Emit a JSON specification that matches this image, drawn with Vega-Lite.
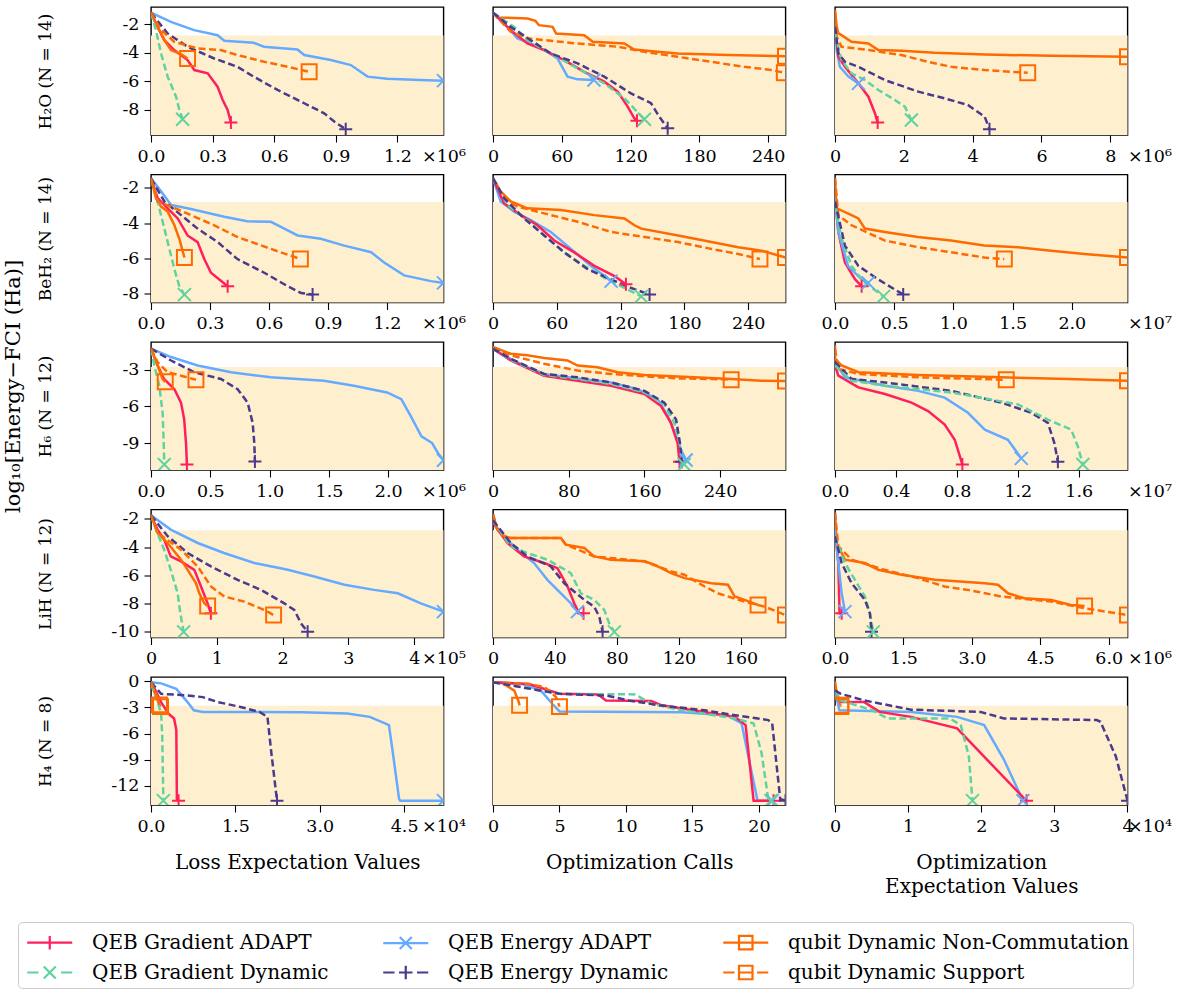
{
"$schema": "https://vega.github.io/schema/vega-lite/v6.json",
"background": "white",
"padding": {"left": 2, "top": 6, "right": 2, "bottom": 2},
"config": {
 "font": "DejaVu Serif",
 "view": {"stroke": "black", "strokeWidth": 1.4},
 "axis": {"grid": false, "domain": false, "labelFont": "DejaVu Serif", "labelFontSize": 17.5, "labelColor": "black", "tickColor": "black", "tickSize": 7, "tickWidth": 1.1, "titleFont": "DejaVu Serif", "titleFontSize": 20, "titleFontWeight": "normal", "titleColor": "black", "labelFlush": false, "labelOverlap": false, "labelPadding": 5, "tickCount": 12},
 "legend": {"labelFont": "DejaVu Serif", "labelFontSize": 20, "labelColor": "black"},
 "title": {"font": "DejaVu Serif", "fontSize": 21, "fontWeight": "normal", "color": "black"}
},
"title": {"text": "log₁₀[Energy−FCI (Ha)]", "orient": "left", "anchor": "middle", "offset": -6, "dx": 111},
"data": {"values": [
{"p":"11","s":"GA","x":0,"y":-1.2},{"p":"11","s":"GA","x":32000,"y":-2.19},{"p":"11","s":"GA","x":65000,"y":-3.12},{"p":"11","s":"GA","x":113000,"y":-3.81},{"p":"11","s":"GA","x":178000,"y":-4.51},{"p":"11","s":"GA","x":211000,"y":-5.21},{"p":"11","s":"GA","x":276000,"y":-5.44},{"p":"11","s":"GA","x":324000,"y":-6.37},{"p":"11","s":"GA","x":349000,"y":-7.3},{"p":"11","s":"GA","x":373000,"y":-8.0},{"p":"11","s":"GA","x":389000,"y":-8.88},
{"p":"11","s":"GD","x":0,"y":-1.2},{"p":"11","s":"GD","x":24000,"y":-2.42},{"p":"11","s":"GD","x":49000,"y":-4.05},{"p":"11","s":"GD","x":81000,"y":-5.67},{"p":"11","s":"GD","x":122000,"y":-7.07},{"p":"11","s":"GD","x":138000,"y":-8.0},{"p":"11","s":"GD","x":154000,"y":-8.65},
{"p":"11","s":"EA","x":0,"y":-1.2},{"p":"11","s":"EA","x":97000,"y":-1.84},{"p":"11","s":"EA","x":210000,"y":-2.42},{"p":"11","s":"EA","x":324000,"y":-2.77},{"p":"11","s":"EA","x":357000,"y":-3.16},{"p":"11","s":"EA","x":500000,"y":-3.3},{"p":"11","s":"EA","x":550000,"y":-3.58},{"p":"11","s":"EA","x":713000,"y":-3.77},{"p":"11","s":"EA","x":746000,"y":-4.16},{"p":"11","s":"EA","x":875000,"y":-4.51},{"p":"11","s":"EA","x":973000,"y":-4.86},{"p":"11","s":"EA","x":1054000,"y":-5.67},{"p":"11","s":"EA","x":1150000,"y":-5.81},{"p":"11","s":"EA","x":1310000,"y":-5.91},{"p":"11","s":"EA","x":1424000,"y":-5.95},
{"p":"11","s":"ED","x":0,"y":-1.2},{"p":"11","s":"ED","x":81000,"y":-2.65},{"p":"11","s":"ED","x":178000,"y":-3.58},{"p":"11","s":"ED","x":308000,"y":-4.4},{"p":"11","s":"ED","x":421000,"y":-4.98},{"p":"11","s":"ED","x":500000,"y":-5.67},{"p":"11","s":"ED","x":616000,"y":-6.6},{"p":"11","s":"ED","x":746000,"y":-7.53},{"p":"11","s":"ED","x":843000,"y":-8.23},{"p":"11","s":"ED","x":892000,"y":-8.81},{"p":"11","s":"ED","x":948000,"y":-9.35},
{"p":"11","s":"NC","x":0,"y":-1.2},{"p":"11","s":"NC","x":32000,"y":-2.19},{"p":"11","s":"NC","x":65000,"y":-3.12},{"p":"11","s":"NC","x":97000,"y":-3.81},{"p":"11","s":"NC","x":146000,"y":-4.09},{"p":"11","s":"NC","x":178000,"y":-4.4},
{"p":"11","s":"SU","x":0,"y":-1.2},{"p":"11","s":"SU","x":49000,"y":-2.42},{"p":"11","s":"SU","x":113000,"y":-3.23},{"p":"11","s":"SU","x":227000,"y":-3.7},{"p":"11","s":"SU","x":340000,"y":-3.81},{"p":"11","s":"SU","x":421000,"y":-4.16},{"p":"11","s":"SU","x":551000,"y":-4.63},{"p":"11","s":"SU","x":665000,"y":-4.98},{"p":"11","s":"SU","x":770000,"y":-5.33},
{"p":"12","s":"NC","x":0,"y":-1.2},{"p":"12","s":"NC","x":3.8,"y":-1.53},{"p":"12","s":"NC","x":30,"y":-1.6},{"p":"12","s":"NC","x":37,"y":-1.77},{"p":"12","s":"NC","x":40,"y":-2.07},{"p":"12","s":"NC","x":52,"y":-2.19},{"p":"12","s":"NC","x":55,"y":-2.65},{"p":"12","s":"NC","x":79.5,"y":-2.77},{"p":"12","s":"NC","x":87,"y":-3.23},{"p":"12","s":"NC","x":114.5,"y":-3.35},{"p":"12","s":"NC","x":123,"y":-3.77},{"p":"12","s":"NC","x":143.6,"y":-3.93},{"p":"12","s":"NC","x":161,"y":-4.05},{"p":"12","s":"NC","x":205,"y":-4.16},{"p":"12","s":"NC","x":255,"y":-4.25},
{"p":"12","s":"SU","x":0,"y":-1.2},{"p":"12","s":"SU","x":15.4,"y":-2.53},{"p":"12","s":"SU","x":30,"y":-3.0},{"p":"12","s":"SU","x":73.7,"y":-3.35},{"p":"12","s":"SU","x":108.7,"y":-3.58},{"p":"12","s":"SU","x":132,"y":-3.93},{"p":"12","s":"SU","x":161,"y":-4.28},{"p":"12","s":"SU","x":190,"y":-4.63},{"p":"12","s":"SU","x":219,"y":-4.98},{"p":"12","s":"SU","x":242.7,"y":-5.21},{"p":"12","s":"SU","x":254,"y":-5.4},
{"p":"12","s":"EA","x":0,"y":-1.2},{"p":"12","s":"EA","x":12.5,"y":-2.19},{"p":"12","s":"EA","x":21.3,"y":-3.0},{"p":"12","s":"EA","x":32.9,"y":-3.35},{"p":"12","s":"EA","x":44.6,"y":-3.81},{"p":"12","s":"EA","x":56.2,"y":-4.4},{"p":"12","s":"EA","x":65,"y":-5.67},{"p":"12","s":"EA","x":73.7,"y":-5.86},{"p":"12","s":"EA","x":88,"y":-5.91},
{"p":"12","s":"GA","x":0,"y":-1.2},{"p":"12","s":"GA","x":15.4,"y":-2.42},{"p":"12","s":"GA","x":30,"y":-3.35},{"p":"12","s":"GA","x":44.6,"y":-3.81},{"p":"12","s":"GA","x":62,"y":-4.51},{"p":"12","s":"GA","x":79.5,"y":-5.33},{"p":"12","s":"GA","x":97,"y":-6.02},{"p":"12","s":"GA","x":108.7,"y":-6.72},{"p":"12","s":"GA","x":117.4,"y":-7.77},{"p":"12","s":"GA","x":123.2,"y":-8.58},{"p":"12","s":"GA","x":125.5,"y":-8.75},
{"p":"12","s":"GD","x":0,"y":-1.2},{"p":"12","s":"GD","x":18.4,"y":-2.19},{"p":"12","s":"GD","x":30,"y":-3.12},{"p":"12","s":"GD","x":50.4,"y":-4.05},{"p":"12","s":"GD","x":73.7,"y":-5.09},{"p":"12","s":"GD","x":97,"y":-6.14},{"p":"12","s":"GD","x":114.5,"y":-7.19},{"p":"12","s":"GD","x":132,"y":-8.65},
{"p":"12","s":"ED","x":0,"y":-1.2},{"p":"12","s":"ED","x":15.4,"y":-2.19},{"p":"12","s":"ED","x":32.9,"y":-3.12},{"p":"12","s":"ED","x":50.4,"y":-4.05},{"p":"12","s":"ED","x":73.7,"y":-4.74},{"p":"12","s":"ED","x":97,"y":-5.67},{"p":"12","s":"ED","x":120.3,"y":-6.84},{"p":"12","s":"ED","x":137.8,"y":-7.53},{"p":"12","s":"ED","x":145,"y":-8.47},{"p":"12","s":"ED","x":152.3,"y":-9.28},
{"p":"13","s":"NC","x":0,"y":-1.0},{"p":"13","s":"NC","x":50000,"y":-2.19},{"p":"13","s":"NC","x":100000,"y":-2.65},{"p":"13","s":"NC","x":190000,"y":-2.77},{"p":"13","s":"NC","x":480000,"y":-3.23},{"p":"13","s":"NC","x":970000,"y":-3.35},{"p":"13","s":"NC","x":1260000,"y":-3.81},{"p":"13","s":"NC","x":1930000,"y":-3.86},{"p":"13","s":"NC","x":2900000,"y":-4.0},{"p":"13","s":"NC","x":4350000,"y":-4.12},{"p":"13","s":"NC","x":6280000,"y":-4.21},{"p":"13","s":"NC","x":8500000,"y":-4.28},
{"p":"13","s":"SU","x":0,"y":-1.14},{"p":"13","s":"SU","x":50000,"y":-2.88},{"p":"13","s":"SU","x":190000,"y":-3.58},{"p":"13","s":"SU","x":970000,"y":-3.81},{"p":"13","s":"SU","x":1930000,"y":-4.16},{"p":"13","s":"SU","x":2700000,"y":-4.63},{"p":"13","s":"SU","x":3380000,"y":-4.98},{"p":"13","s":"SU","x":4350000,"y":-5.21},{"p":"13","s":"SU","x":5600000,"y":-5.4},
{"p":"13","s":"EA","x":0,"y":-2.19},{"p":"13","s":"EA","x":50000,"y":-3.81},{"p":"13","s":"EA","x":140000,"y":-4.98},{"p":"13","s":"EA","x":390000,"y":-5.67},{"p":"13","s":"EA","x":680000,"y":-6.14},
{"p":"13","s":"GA","x":0,"y":-2.19},{"p":"13","s":"GA","x":100000,"y":-4.28},{"p":"13","s":"GA","x":290000,"y":-4.98},{"p":"13","s":"GA","x":680000,"y":-6.14},{"p":"13","s":"GA","x":970000,"y":-7.07},{"p":"13","s":"GA","x":1160000,"y":-8.23},{"p":"13","s":"GA","x":1240000,"y":-8.88},
{"p":"13","s":"GD","x":0,"y":-2.65},{"p":"13","s":"GD","x":190000,"y":-4.51},{"p":"13","s":"GD","x":480000,"y":-5.44},{"p":"13","s":"GD","x":870000,"y":-5.91},{"p":"13","s":"GD","x":1260000,"y":-6.6},{"p":"13","s":"GD","x":1740000,"y":-7.3},{"p":"13","s":"GD","x":2030000,"y":-7.77},{"p":"13","s":"GD","x":2220000,"y":-8.7},
{"p":"13","s":"ED","x":0,"y":-2.19},{"p":"13","s":"ED","x":100000,"y":-4.05},{"p":"13","s":"ED","x":290000,"y":-4.63},{"p":"13","s":"ED","x":680000,"y":-4.98},{"p":"13","s":"ED","x":1450000,"y":-5.91},{"p":"13","s":"ED","x":2420000,"y":-6.72},{"p":"13","s":"ED","x":3190000,"y":-7.19},{"p":"13","s":"ED","x":3860000,"y":-7.65},{"p":"13","s":"ED","x":4350000,"y":-8.47},{"p":"13","s":"ED","x":4490000,"y":-9.35},
{"p":"21","s":"EA","x":0,"y":-1.45},{"p":"21","s":"EA","x":51000,"y":-2.19},{"p":"21","s":"EA","x":102000,"y":-2.97},{"p":"21","s":"EA","x":203000,"y":-3.2},{"p":"21","s":"EA","x":373000,"y":-3.64},{"p":"21","s":"EA","x":490000,"y":-3.9},{"p":"21","s":"EA","x":610000,"y":-3.93},{"p":"21","s":"EA","x":678000,"y":-4.32},{"p":"21","s":"EA","x":746000,"y":-4.71},{"p":"21","s":"EA","x":864000,"y":-4.9},{"p":"21","s":"EA","x":983000,"y":-5.29},{"p":"21","s":"EA","x":1120000,"y":-5.67},{"p":"21","s":"EA","x":1186000,"y":-6.26},{"p":"21","s":"EA","x":1288000,"y":-6.99},{"p":"21","s":"EA","x":1424000,"y":-7.32},{"p":"21","s":"EA","x":1488000,"y":-7.42},
{"p":"21","s":"GA","x":0,"y":-1.45},{"p":"21","s":"GA","x":34000,"y":-2.58},{"p":"21","s":"GA","x":85000,"y":-3.16},{"p":"21","s":"GA","x":136000,"y":-3.74},{"p":"21","s":"GA","x":186000,"y":-4.71},{"p":"21","s":"GA","x":237000,"y":-5.09},{"p":"21","s":"GA","x":271000,"y":-6.06},{"p":"21","s":"GA","x":305000,"y":-6.84},{"p":"21","s":"GA","x":390000,"y":-7.61},
{"p":"21","s":"GD","x":0,"y":-1.45},{"p":"21","s":"GD","x":25000,"y":-2.39},{"p":"21","s":"GD","x":51000,"y":-3.55},{"p":"21","s":"GD","x":85000,"y":-5.09},{"p":"21","s":"GD","x":119000,"y":-6.64},{"p":"21","s":"GD","x":144000,"y":-7.61},{"p":"21","s":"GD","x":170000,"y":-8.09},
{"p":"21","s":"ED","x":0,"y":-1.45},{"p":"21","s":"ED","x":68000,"y":-2.77},{"p":"21","s":"ED","x":153000,"y":-3.55},{"p":"21","s":"ED","x":237000,"y":-4.32},{"p":"21","s":"ED","x":339000,"y":-5.09},{"p":"21","s":"ED","x":440000,"y":-6.06},{"p":"21","s":"ED","x":576000,"y":-6.84},{"p":"21","s":"ED","x":695000,"y":-7.61},{"p":"21","s":"ED","x":763000,"y":-8.0},{"p":"21","s":"ED","x":822000,"y":-8.09},
{"p":"21","s":"NC","x":0,"y":-1.45},{"p":"21","s":"NC","x":25000,"y":-2.58},{"p":"21","s":"NC","x":51000,"y":-3.06},{"p":"21","s":"NC","x":85000,"y":-3.35},{"p":"21","s":"NC","x":119000,"y":-4.13},{"p":"21","s":"NC","x":144000,"y":-4.9},{"p":"21","s":"NC","x":170000,"y":-5.97},
{"p":"21","s":"SU","x":0,"y":-1.45},{"p":"21","s":"SU","x":34000,"y":-2.77},{"p":"21","s":"SU","x":102000,"y":-3.06},{"p":"21","s":"SU","x":203000,"y":-3.55},{"p":"21","s":"SU","x":322000,"y":-4.13},{"p":"21","s":"SU","x":440000,"y":-4.8},{"p":"21","s":"SU","x":610000,"y":-5.48},{"p":"21","s":"SU","x":760000,"y":-6.06},
{"p":"22","s":"NC","x":0,"y":-1.45},{"p":"22","s":"NC","x":7.2,"y":-2.19},{"p":"22","s":"NC","x":16.7,"y":-2.77},{"p":"22","s":"NC","x":32.4,"y":-3.16},{"p":"22","s":"NC","x":63.9,"y":-3.26},{"p":"22","s":"NC","x":95.3,"y":-3.55},{"p":"22","s":"NC","x":123.6,"y":-3.74},{"p":"22","s":"NC","x":133,"y":-4.13},{"p":"22","s":"NC","x":139.4,"y":-4.32},{"p":"22","s":"NC","x":174,"y":-4.71},{"p":"22","s":"NC","x":205.4,"y":-5.09},{"p":"22","s":"NC","x":230.6,"y":-5.39},{"p":"22","s":"NC","x":252.6,"y":-5.58},{"p":"22","s":"NC","x":275,"y":-5.97},
{"p":"22","s":"SU","x":0,"y":-1.45},{"p":"22","s":"SU","x":10.4,"y":-2.58},{"p":"22","s":"SU","x":23,"y":-3.06},{"p":"22","s":"SU","x":48.1,"y":-3.45},{"p":"22","s":"SU","x":79.6,"y":-3.93},{"p":"22","s":"SU","x":111,"y":-4.51},{"p":"22","s":"SU","x":142.5,"y":-4.8},{"p":"22","s":"SU","x":174,"y":-5.09},{"p":"22","s":"SU","x":205.4,"y":-5.48},{"p":"22","s":"SU","x":230.6,"y":-5.77},{"p":"22","s":"SU","x":251,"y":-6.06},
{"p":"22","s":"EA","x":0,"y":-1.45},{"p":"22","s":"EA","x":7.2,"y":-2.77},{"p":"22","s":"EA","x":19.8,"y":-3.35},{"p":"22","s":"EA","x":35.5,"y":-3.84},{"p":"22","s":"EA","x":54.4,"y":-4.51},{"p":"22","s":"EA","x":73.3,"y":-5.48},{"p":"22","s":"EA","x":92.2,"y":-6.45},{"p":"22","s":"EA","x":104.8,"y":-7.03},{"p":"22","s":"EA","x":111,"y":-7.32},
{"p":"22","s":"GA","x":0,"y":-1.45},{"p":"22","s":"GA","x":10.4,"y":-2.87},{"p":"22","s":"GA","x":26.1,"y":-3.55},{"p":"22","s":"GA","x":41.8,"y":-4.13},{"p":"22","s":"GA","x":57.6,"y":-5.0},{"p":"22","s":"GA","x":76.4,"y":-5.68},{"p":"22","s":"GA","x":95.3,"y":-6.45},{"p":"22","s":"GA","x":114.2,"y":-7.03},{"p":"22","s":"GA","x":125,"y":-7.5},
{"p":"22","s":"GD","x":0,"y":-1.45},{"p":"22","s":"GD","x":13.5,"y":-2.97},{"p":"22","s":"GD","x":32.4,"y":-3.84},{"p":"22","s":"GD","x":48.1,"y":-4.71},{"p":"22","s":"GD","x":67,"y":-5.68},{"p":"22","s":"GD","x":85.9,"y":-6.45},{"p":"22","s":"GD","x":104.8,"y":-7.13},{"p":"22","s":"GD","x":123.6,"y":-7.71},{"p":"22","s":"GD","x":139.4,"y":-8.19},
{"p":"22","s":"ED","x":0,"y":-1.45},{"p":"22","s":"ED","x":10.4,"y":-2.58},{"p":"22","s":"ED","x":29.3,"y":-3.74},{"p":"22","s":"ED","x":48.1,"y":-4.71},{"p":"22","s":"ED","x":67,"y":-5.68},{"p":"22","s":"ED","x":89,"y":-6.64},{"p":"22","s":"ED","x":111,"y":-7.22},{"p":"22","s":"ED","x":130,"y":-7.71},{"p":"22","s":"ED","x":147.2,"y":-8.09},
{"p":"23","s":"NC","x":0,"y":-1.45},{"p":"23","s":"NC","x":140000,"y":-3.16},{"p":"23","s":"NC","x":1400000,"y":-3.55},{"p":"23","s":"NC","x":1970000,"y":-3.74},{"p":"23","s":"NC","x":2530000,"y":-4.32},{"p":"23","s":"NC","x":4200000,"y":-4.51},{"p":"23","s":"NC","x":7000000,"y":-4.8},{"p":"23","s":"NC","x":9800000,"y":-5.0},{"p":"23","s":"NC","x":12600000,"y":-5.29},{"p":"23","s":"NC","x":15450000,"y":-5.38},{"p":"23","s":"NC","x":18260000,"y":-5.58},{"p":"23","s":"NC","x":21070000,"y":-5.77},{"p":"23","s":"NC","x":24700000,"y":-5.97},
{"p":"23","s":"SU","x":0,"y":-1.45},{"p":"23","s":"SU","x":280000,"y":-3.55},{"p":"23","s":"SU","x":1400000,"y":-4.13},{"p":"23","s":"SU","x":4200000,"y":-5.0},{"p":"23","s":"SU","x":7000000,"y":-5.38},{"p":"23","s":"SU","x":9800000,"y":-5.67},{"p":"23","s":"SU","x":12600000,"y":-5.97},{"p":"23","s":"SU","x":14300000,"y":-6.06},
{"p":"23","s":"GA","x":0,"y":-2.58},{"p":"23","s":"GA","x":280000,"y":-4.51},{"p":"23","s":"GA","x":840000,"y":-6.26},{"p":"23","s":"GA","x":1700000,"y":-7.22},{"p":"23","s":"GA","x":2250000,"y":-7.61},
{"p":"23","s":"EA","x":0,"y":-2.58},{"p":"23","s":"EA","x":280000,"y":-4.51},{"p":"23","s":"EA","x":1100000,"y":-6.45},{"p":"23","s":"EA","x":2250000,"y":-7.22},{"p":"23","s":"EA","x":2800000,"y":-7.42},
{"p":"23","s":"GD","x":0,"y":-2.97},{"p":"23","s":"GD","x":560000,"y":-4.9},{"p":"23","s":"GD","x":1400000,"y":-6.45},{"p":"23","s":"GD","x":2500000,"y":-7.42},{"p":"23","s":"GD","x":4100000,"y":-8.19},
{"p":"23","s":"ED","x":0,"y":-2.77},{"p":"23","s":"ED","x":840000,"y":-5.29},{"p":"23","s":"ED","x":1970000,"y":-6.45},{"p":"23","s":"ED","x":3650000,"y":-7.22},{"p":"23","s":"ED","x":5060000,"y":-7.8},{"p":"23","s":"ED","x":5760000,"y":-8.09},
{"p":"31","s":"EA","x":0,"y":-1.29},{"p":"31","s":"EA","x":169000,"y":-1.98},{"p":"31","s":"EA","x":393000,"y":-2.67},{"p":"31","s":"EA","x":674000,"y":-3.22},{"p":"31","s":"EA","x":1010000,"y":-3.63},{"p":"31","s":"EA","x":1460000,"y":-3.91},{"p":"31","s":"EA","x":1710000,"y":-4.32},{"p":"31","s":"EA","x":1990000,"y":-4.87},{"p":"31","s":"EA","x":2110000,"y":-5.42},{"p":"31","s":"EA","x":2190000,"y":-6.8},{"p":"31","s":"EA","x":2280000,"y":-8.45},{"p":"31","s":"EA","x":2370000,"y":-9.0},{"p":"31","s":"EA","x":2420000,"y":-9.83},{"p":"31","s":"EA","x":2466000,"y":-10.4},
{"p":"31","s":"GA","x":0,"y":-1.29},{"p":"31","s":"GA","x":56000,"y":-2.67},{"p":"31","s":"GA","x":110000,"y":-3.77},{"p":"31","s":"GA","x":197000,"y":-4.6},{"p":"31","s":"GA","x":253000,"y":-5.7},{"p":"31","s":"GA","x":280000,"y":-7.08},{"p":"31","s":"GA","x":295000,"y":-9.0},{"p":"31","s":"GA","x":303000,"y":-10.75},
{"p":"31","s":"GD","x":0,"y":-1.29},{"p":"31","s":"GD","x":28000,"y":-2.67},{"p":"31","s":"GD","x":70000,"y":-4.32},{"p":"31","s":"GD","x":98000,"y":-6.53},{"p":"31","s":"GD","x":107000,"y":-9.0},{"p":"31","s":"GD","x":112000,"y":-10.75},
{"p":"31","s":"ED","x":0,"y":-1.29},{"p":"31","s":"ED","x":169000,"y":-2.26},{"p":"31","s":"ED","x":365000,"y":-3.22},{"p":"31","s":"ED","x":590000,"y":-3.77},{"p":"31","s":"ED","x":730000,"y":-4.6},{"p":"31","s":"ED","x":815000,"y":-5.7},{"p":"31","s":"ED","x":857000,"y":-7.35},{"p":"31","s":"ED","x":871000,"y":-9.0},{"p":"31","s":"ED","x":876000,"y":-10.5},
{"p":"31","s":"NC","x":0,"y":-1.29},{"p":"31","s":"NC","x":56000,"y":-2.67},{"p":"31","s":"NC","x":98000,"y":-3.77},{"p":"31","s":"NC","x":120000,"y":-4.0},
{"p":"31","s":"SU","x":0,"y":-1.29},{"p":"31","s":"SU","x":56000,"y":-2.4},{"p":"31","s":"SU","x":140000,"y":-3.22},{"p":"31","s":"SU","x":253000,"y":-3.5},{"p":"31","s":"SU","x":379000,"y":-3.83},
{"p":"32","s":"NC","x":0,"y":-1.15},{"p":"32","s":"NC","x":18.7,"y":-1.71},{"p":"32","s":"NC","x":36.3,"y":-1.84},{"p":"32","s":"NC","x":54,"y":-2.06},{"p":"32","s":"NC","x":78.7,"y":-2.26},{"p":"32","s":"NC","x":89.3,"y":-2.67},{"p":"32","s":"NC","x":110.5,"y":-2.81},{"p":"32","s":"NC","x":131.6,"y":-3.22},{"p":"32","s":"NC","x":160,"y":-3.44},{"p":"32","s":"NC","x":212.8,"y":-3.63},{"p":"32","s":"NC","x":251.6,"y":-3.77},{"p":"32","s":"NC","x":283.4,"y":-3.91},{"p":"32","s":"NC","x":309,"y":-3.93},
{"p":"32","s":"SU","x":0,"y":-1.3},{"p":"32","s":"SU","x":18.7,"y":-1.84},{"p":"32","s":"SU","x":54,"y":-2.53},{"p":"32","s":"SU","x":89.3,"y":-3.08},{"p":"32","s":"SU","x":124.6,"y":-3.36},{"p":"32","s":"SU","x":160,"y":-3.55},{"p":"32","s":"SU","x":195,"y":-3.72},{"p":"32","s":"SU","x":230.4,"y":-3.77},{"p":"32","s":"SU","x":251.6,"y":-3.83},
{"p":"32","s":"EA","x":0,"y":-1.3},{"p":"32","s":"EA","x":18.7,"y":-2.12},{"p":"32","s":"EA","x":36.3,"y":-2.81},{"p":"32","s":"EA","x":54,"y":-3.36},{"p":"32","s":"EA","x":89.3,"y":-3.72},{"p":"32","s":"EA","x":124.6,"y":-4.05},{"p":"32","s":"EA","x":152.8,"y":-4.6},{"p":"32","s":"EA","x":174,"y":-5.42},{"p":"32","s":"EA","x":184.6,"y":-6.8},{"p":"32","s":"EA","x":193.4,"y":-8.45},{"p":"32","s":"EA","x":198.7,"y":-9.56},{"p":"32","s":"EA","x":204,"y":-10.38},
{"p":"32","s":"GA","x":0,"y":-1.3},{"p":"32","s":"GA","x":18.7,"y":-2.26},{"p":"32","s":"GA","x":54,"y":-3.5},{"p":"32","s":"GA","x":89.3,"y":-3.91},{"p":"32","s":"GA","x":124.6,"y":-4.32},{"p":"32","s":"GA","x":160,"y":-5.0},{"p":"32","s":"GA","x":177.5,"y":-5.98},{"p":"32","s":"GA","x":188,"y":-7.35},{"p":"32","s":"GA","x":195,"y":-9.0},{"p":"32","s":"GA","x":197,"y":-10.52},
{"p":"32","s":"GD","x":0,"y":-1.3},{"p":"32","s":"GD","x":18.7,"y":-2.2},{"p":"32","s":"GD","x":54,"y":-3.44},{"p":"32","s":"GD","x":89.3,"y":-3.77},{"p":"32","s":"GD","x":124.6,"y":-4.18},{"p":"32","s":"GD","x":160,"y":-4.87},{"p":"32","s":"GD","x":181,"y":-5.84},{"p":"32","s":"GD","x":191.6,"y":-7.35},{"p":"32","s":"GD","x":197,"y":-9.0},{"p":"32","s":"GD","x":202,"y":-10.75},
{"p":"32","s":"ED","x":0,"y":-1.3},{"p":"32","s":"ED","x":18.7,"y":-2.12},{"p":"32","s":"ED","x":54,"y":-3.36},{"p":"32","s":"ED","x":89.3,"y":-3.63},{"p":"32","s":"ED","x":124.6,"y":-4.05},{"p":"32","s":"ED","x":160,"y":-4.74},{"p":"32","s":"ED","x":181,"y":-5.7},{"p":"32","s":"ED","x":193.4,"y":-7.08},{"p":"32","s":"ED","x":197.5,"y":-9.0},{"p":"32","s":"ED","x":199.4,"y":-10.52},
{"p":"33","s":"NC","x":0,"y":-1.0},{"p":"33","s":"NC","x":10000,"y":-2.12},{"p":"33","s":"NC","x":440000,"y":-2.67},{"p":"33","s":"NC","x":1530000,"y":-3.22},{"p":"33","s":"NC","x":5460000,"y":-3.44},{"p":"33","s":"NC","x":10900000,"y":-3.63},{"p":"33","s":"NC","x":15300000,"y":-3.77},{"p":"33","s":"NC","x":19200000,"y":-3.91},
{"p":"33","s":"SU","x":0,"y":-1.3},{"p":"33","s":"SU","x":220000,"y":-2.94},{"p":"33","s":"SU","x":1530000,"y":-3.36},{"p":"33","s":"SU","x":5460000,"y":-3.63},{"p":"33","s":"SU","x":11240000,"y":-3.83},
{"p":"33","s":"GA","x":0,"y":-2.67},{"p":"33","s":"GA","x":220000,"y":-3.5},{"p":"33","s":"GA","x":1530000,"y":-4.46},{"p":"33","s":"GA","x":3280000,"y":-5.0},{"p":"33","s":"GA","x":5020000,"y":-5.7},{"p":"33","s":"GA","x":6110000,"y":-6.39},{"p":"33","s":"GA","x":7200000,"y":-7.49},{"p":"33","s":"GA","x":7860000,"y":-8.73},{"p":"33","s":"GA","x":8360000,"y":-10.75},
{"p":"33","s":"EA","x":0,"y":-2.4},{"p":"33","s":"EA","x":660000,"y":-3.63},{"p":"33","s":"EA","x":3280000,"y":-4.32},{"p":"33","s":"EA","x":5460000,"y":-4.74},{"p":"33","s":"EA","x":7200000,"y":-5.29},{"p":"33","s":"EA","x":8730000,"y":-6.53},{"p":"33","s":"EA","x":9830000,"y":-7.9},{"p":"33","s":"EA","x":11350000,"y":-8.73},{"p":"33","s":"EA","x":12230000,"y":-10.25},
{"p":"33","s":"ED","x":0,"y":-2.4},{"p":"33","s":"ED","x":1090000,"y":-3.77},{"p":"33","s":"ED","x":3280000,"y":-4.05},{"p":"33","s":"ED","x":7640000,"y":-4.74},{"p":"33","s":"ED","x":10920000,"y":-5.7},{"p":"33","s":"ED","x":12880000,"y":-6.53},{"p":"33","s":"ED","x":13970000,"y":-7.35},{"p":"33","s":"ED","x":14400000,"y":-9.0},{"p":"33","s":"ED","x":14630000,"y":-10.52},
{"p":"33","s":"GD","x":0,"y":-2.67},{"p":"33","s":"GD","x":1090000,"y":-3.91},{"p":"33","s":"GD","x":3280000,"y":-4.32},{"p":"33","s":"GD","x":7640000,"y":-4.87},{"p":"33","s":"GD","x":12000000,"y":-5.84},{"p":"33","s":"GD","x":13970000,"y":-7.08},{"p":"33","s":"GD","x":15500000,"y":-7.9},{"p":"33","s":"GD","x":15940000,"y":-9.28},{"p":"33","s":"GD","x":16270000,"y":-10.75},
{"p":"41","s":"EA","x":0,"y":-1.75},{"p":"41","s":"EA","x":30000,"y":-2.76},{"p":"41","s":"EA","x":71000,"y":-3.71},{"p":"41","s":"EA","x":111000,"y":-4.42},{"p":"41","s":"EA","x":157000,"y":-5.13},{"p":"41","s":"EA","x":208000,"y":-5.61},{"p":"41","s":"EA","x":248000,"y":-6.08},{"p":"41","s":"EA","x":294000,"y":-6.67},{"p":"41","s":"EA","x":339000,"y":-7.03},{"p":"41","s":"EA","x":375000,"y":-7.27},{"p":"41","s":"EA","x":410000,"y":-7.98},{"p":"41","s":"EA","x":444500,"y":-8.57},
{"p":"41","s":"GA","x":0,"y":-1.75},{"p":"41","s":"GA","x":10000,"y":-2.76},{"p":"41","s":"GA","x":20000,"y":-3.47},{"p":"41","s":"GA","x":30000,"y":-4.66},{"p":"41","s":"GA","x":45600,"y":-5.01},{"p":"41","s":"GA","x":65800,"y":-5.61},{"p":"41","s":"GA","x":76000,"y":-6.79},{"p":"41","s":"GA","x":86000,"y":-7.98},{"p":"41","s":"GA","x":91000,"y":-8.69},
{"p":"41","s":"GD","x":0,"y":-1.75},{"p":"41","s":"GD","x":7600,"y":-2.76},{"p":"41","s":"GD","x":20000,"y":-4.18},{"p":"41","s":"GD","x":30000,"y":-5.61},{"p":"41","s":"GD","x":40500,"y":-7.27},{"p":"41","s":"GD","x":44600,"y":-8.69},{"p":"41","s":"GD","x":49600,"y":-10.0},
{"p":"41","s":"ED","x":0,"y":-1.75},{"p":"41","s":"ED","x":25300,"y":-3.23},{"p":"41","s":"ED","x":55700,"y":-4.42},{"p":"41","s":"ED","x":91100,"y":-5.37},{"p":"41","s":"ED","x":131600,"y":-6.32},{"p":"41","s":"ED","x":167100,"y":-7.03},{"p":"41","s":"ED","x":202500,"y":-7.98},{"p":"41","s":"ED","x":217700,"y":-8.45},{"p":"41","s":"ED","x":228000,"y":-9.4},{"p":"41","s":"ED","x":238000,"y":-10.0},
{"p":"41","s":"NC","x":0,"y":-1.75},{"p":"41","s":"NC","x":10000,"y":-3.0},{"p":"41","s":"NC","x":25300,"y":-3.71},{"p":"41","s":"NC","x":45600,"y":-4.89},{"p":"41","s":"NC","x":55700,"y":-5.61},{"p":"41","s":"NC","x":68400,"y":-6.56},{"p":"41","s":"NC","x":73400,"y":-7.27},{"p":"41","s":"NC","x":81000,"y":-7.98},{"p":"41","s":"NC","x":86100,"y":-8.17},
{"p":"41","s":"SU","x":0,"y":-1.75},{"p":"41","s":"SU","x":10000,"y":-3.0},{"p":"41","s":"SU","x":45600,"y":-4.18},{"p":"41","s":"SU","x":70900,"y":-5.37},{"p":"41","s":"SU","x":91100,"y":-6.79},{"p":"41","s":"SU","x":111400,"y":-7.5},{"p":"41","s":"SU","x":141800,"y":-7.86},{"p":"41","s":"SU","x":172200,"y":-8.45},{"p":"41","s":"SU","x":186300,"y":-8.81},
{"p":"42","s":"NC","x":0,"y":-1.69},{"p":"42","s":"NC","x":2.8,"y":-2.76},{"p":"42","s":"NC","x":7.1,"y":-3.23},{"p":"42","s":"NC","x":11.4,"y":-3.35},{"p":"42","s":"NC","x":43.8,"y":-3.36},{"p":"42","s":"NC","x":47,"y":-3.83},{"p":"42","s":"NC","x":58.9,"y":-4.06},{"p":"42","s":"NC","x":65.3,"y":-4.66},{"p":"42","s":"NC","x":76.1,"y":-4.89},{"p":"42","s":"NC","x":97.7,"y":-5.01},{"p":"42","s":"NC","x":104.1,"y":-5.25},{"p":"42","s":"NC","x":114.9,"y":-5.84},{"p":"42","s":"NC","x":123.5,"y":-6.2},{"p":"42","s":"NC","x":140.8,"y":-6.56},{"p":"42","s":"NC","x":151.6,"y":-6.67},{"p":"42","s":"NC","x":155.9,"y":-7.5},{"p":"42","s":"NC","x":162.3,"y":-7.74},{"p":"42","s":"NC","x":171,"y":-8.1},
{"p":"42","s":"SU","x":0,"y":-1.69},{"p":"42","s":"SU","x":2.8,"y":-2.76},{"p":"42","s":"SU","x":7.1,"y":-3.23},{"p":"42","s":"SU","x":11.4,"y":-3.35},{"p":"42","s":"SU","x":43.8,"y":-3.36},{"p":"42","s":"SU","x":47,"y":-3.83},{"p":"42","s":"SU","x":65.3,"y":-4.66},{"p":"42","s":"SU","x":97.7,"y":-5.01},{"p":"42","s":"SU","x":114.9,"y":-5.72},{"p":"42","s":"SU","x":123.5,"y":-5.96},{"p":"42","s":"SU","x":136.5,"y":-6.79},{"p":"42","s":"SU","x":145,"y":-7.27},{"p":"42","s":"SU","x":162.3,"y":-7.86},{"p":"42","s":"SU","x":175.3,"y":-8.22},{"p":"42","s":"SU","x":188.7,"y":-8.81},
{"p":"42","s":"EA","x":0,"y":-2.28},{"p":"42","s":"EA","x":7.1,"y":-3.23},{"p":"42","s":"EA","x":15.7,"y":-4.18},{"p":"42","s":"EA","x":26.5,"y":-5.13},{"p":"42","s":"EA","x":35.1,"y":-6.32},{"p":"42","s":"EA","x":43.8,"y":-7.27},{"p":"42","s":"EA","x":52.4,"y":-8.22},{"p":"42","s":"EA","x":54.5,"y":-8.57},
{"p":"42","s":"GA","x":0,"y":-2.28},{"p":"42","s":"GA","x":9.3,"y":-3.71},{"p":"42","s":"GA","x":20,"y":-4.66},{"p":"42","s":"GA","x":33,"y":-5.13},{"p":"42","s":"GA","x":41.6,"y":-5.49},{"p":"42","s":"GA","x":48.1,"y":-6.79},{"p":"42","s":"GA","x":52.4,"y":-7.98},{"p":"42","s":"GA","x":55.6,"y":-8.69},{"p":"42","s":"GA","x":58.4,"y":-8.69},
{"p":"42","s":"GD","x":0,"y":-2.1},{"p":"42","s":"GD","x":11.4,"y":-3.95},{"p":"42","s":"GD","x":22.2,"y":-4.42},{"p":"42","s":"GD","x":35.1,"y":-4.89},{"p":"42","s":"GD","x":50.2,"y":-5.84},{"p":"42","s":"GD","x":56.7,"y":-7.27},{"p":"42","s":"GD","x":65.3,"y":-7.74},{"p":"42","s":"GD","x":71.8,"y":-8.45},{"p":"42","s":"GD","x":75,"y":-9.4},{"p":"42","s":"GD","x":78.3,"y":-10.0},
{"p":"42","s":"ED","x":0,"y":-2.1},{"p":"42","s":"ED","x":11.4,"y":-3.71},{"p":"42","s":"ED","x":22.2,"y":-4.66},{"p":"42","s":"ED","x":37.3,"y":-5.37},{"p":"42","s":"ED","x":46,"y":-6.56},{"p":"42","s":"ED","x":58.9,"y":-7.74},{"p":"42","s":"ED","x":65.3,"y":-8.22},{"p":"42","s":"ED","x":68.6,"y":-8.93},{"p":"42","s":"ED","x":70.7,"y":-10.0},
{"p":"43","s":"NC","x":0,"y":-1.57},{"p":"43","s":"NC","x":36000,"y":-3.71},{"p":"43","s":"NC","x":219000,"y":-4.89},{"p":"43","s":"NC","x":656000,"y":-5.13},{"p":"43","s":"NC","x":948000,"y":-5.61},{"p":"43","s":"NC","x":1458000,"y":-5.96},{"p":"43","s":"NC","x":2190000,"y":-6.32},{"p":"43","s":"NC","x":3280000,"y":-6.56},{"p":"43","s":"NC","x":3570000,"y":-6.67},{"p":"43","s":"NC","x":3790000,"y":-7.27},{"p":"43","s":"NC","x":4150000,"y":-7.62},{"p":"43","s":"NC","x":4740000,"y":-7.74},{"p":"43","s":"NC","x":5170000,"y":-8.1},{"p":"43","s":"NC","x":5470000,"y":-8.17},
{"p":"43","s":"SU","x":0,"y":-1.57},{"p":"43","s":"SU","x":73000,"y":-3.95},{"p":"43","s":"SU","x":364000,"y":-4.89},{"p":"43","s":"SU","x":1090000,"y":-5.61},{"p":"43","s":"SU","x":1820000,"y":-6.2},{"p":"43","s":"SU","x":2400000,"y":-6.79},{"p":"43","s":"SU","x":2920000,"y":-7.03},{"p":"43","s":"SU","x":3640000,"y":-7.5},{"p":"43","s":"SU","x":4740000,"y":-7.86},{"p":"43","s":"SU","x":5470000,"y":-8.33},{"p":"43","s":"SU","x":6410000,"y":-8.81},
{"p":"43","s":"GA","x":0,"y":-2.76},{"p":"43","s":"GA","x":73000,"y":-5.13},{"p":"43","s":"GA","x":87000,"y":-7.03},{"p":"43","s":"GA","x":100000,"y":-8.69},{"p":"43","s":"GA","x":146000,"y":-8.69},
{"p":"43","s":"EA","x":0,"y":-2.76},{"p":"43","s":"EA","x":73000,"y":-5.13},{"p":"43","s":"EA","x":146000,"y":-7.27},{"p":"43","s":"EA","x":219000,"y":-8.57},
{"p":"43","s":"GD","x":0,"y":-3.23},{"p":"43","s":"GD","x":219000,"y":-5.13},{"p":"43","s":"GD","x":437000,"y":-6.32},{"p":"43","s":"GD","x":656000,"y":-7.5},{"p":"43","s":"GD","x":765000,"y":-8.69},{"p":"43","s":"GD","x":838000,"y":-10.0},
{"p":"43","s":"ED","x":0,"y":-3.23},{"p":"43","s":"ED","x":146000,"y":-5.13},{"p":"43","s":"ED","x":364000,"y":-6.56},{"p":"43","s":"ED","x":656000,"y":-7.74},{"p":"43","s":"ED","x":765000,"y":-8.69},{"p":"43","s":"ED","x":800000,"y":-10.0},
{"p":"51","s":"EA","x":0,"y":-0.11},{"p":"51","s":"EA","x":1800,"y":-0.23},{"p":"51","s":"EA","x":4500,"y":-0.87},{"p":"51","s":"EA","x":6500,"y":-2.38},{"p":"51","s":"EA","x":7600,"y":-3.32},{"p":"51","s":"EA","x":9200,"y":-3.51},{"p":"51","s":"EA","x":26800,"y":-3.55},{"p":"51","s":"EA","x":34900,"y":-3.7},{"p":"51","s":"EA","x":38900,"y":-4.08},{"p":"51","s":"EA","x":41600,"y":-4.83},{"p":"51","s":"EA","x":42300,"y":-5.02},{"p":"51","s":"EA","x":43000,"y":-8.23},{"p":"51","s":"EA","x":44100,"y":-13.5},{"p":"51","s":"EA","x":44300,"y":-13.7},{"p":"51","s":"EA","x":52000,"y":-13.7},
{"p":"51","s":"GA","x":0,"y":-0.11},{"p":"51","s":"GA","x":800,"y":-1.06},{"p":"51","s":"GA","x":1800,"y":-2.38},{"p":"51","s":"GA","x":3100,"y":-3.7},{"p":"51","s":"GA","x":4100,"y":-4.26},{"p":"51","s":"GA","x":4500,"y":-5.58},{"p":"51","s":"GA","x":4600,"y":-13.5},{"p":"51","s":"GA","x":4900,"y":-13.7},
{"p":"51","s":"GD","x":0,"y":-0.3},{"p":"51","s":"GD","x":1100,"y":-2.19},{"p":"51","s":"GD","x":1800,"y":-3.7},{"p":"51","s":"GD","x":2000,"y":-6.34},{"p":"51","s":"GD","x":2200,"y":-13.7},
{"p":"51","s":"ED","x":0,"y":-0.11},{"p":"51","s":"ED","x":1800,"y":-1.43},{"p":"51","s":"ED","x":6500,"y":-1.62},{"p":"51","s":"ED","x":9200,"y":-1.81},{"p":"51","s":"ED","x":11900,"y":-2.38},{"p":"51","s":"ED","x":15900,"y":-2.94},{"p":"51","s":"ED","x":19300,"y":-3.51},{"p":"51","s":"ED","x":20700,"y":-4.08},{"p":"51","s":"ED","x":21400,"y":-8.23},{"p":"51","s":"ED","x":22400,"y":-13.7},
{"p":"51","s":"NC","x":0,"y":-0.11},{"p":"51","s":"NC","x":700,"y":-1.43},{"p":"51","s":"NC","x":1400,"y":-2.57},{"p":"51","s":"NC","x":1700,"y":-2.9},
{"p":"51","s":"SU","x":0,"y":-0.11},{"p":"51","s":"SU","x":1000,"y":-1.6},{"p":"51","s":"SU","x":1500,"y":-2.7},
{"p":"52","s":"NC","x":0,"y":-0.11},{"p":"52","s":"NC","x":0.74,"y":-0.23},{"p":"52","s":"NC","x":1.6,"y":-1.06},{"p":"52","s":"NC","x":1.9,"y":-2.19},{"p":"52","s":"NC","x":2,"y":-2.75},
{"p":"52","s":"SU","x":0,"y":-0.11},{"p":"52","s":"SU","x":2.74,"y":-0.3},{"p":"52","s":"SU","x":3.9,"y":-0.68},{"p":"52","s":"SU","x":4.74,"y":-1.81},{"p":"52","s":"SU","x":5,"y":-2.9},
{"p":"52","s":"EA","x":0,"y":-0.11},{"p":"52","s":"EA","x":2.2,"y":-0.3},{"p":"52","s":"EA","x":3.6,"y":-1.06},{"p":"52","s":"EA","x":4.46,"y":-2.57},{"p":"52","s":"EA","x":5,"y":-3.45},{"p":"52","s":"EA","x":14.2,"y":-3.55},{"p":"52","s":"EA","x":17.6,"y":-3.89},{"p":"52","s":"EA","x":18.7,"y":-4.83},{"p":"52","s":"EA","x":19.2,"y":-8.6},{"p":"52","s":"EA","x":19.9,"y":-13.7},{"p":"52","s":"EA","x":21,"y":-13.7},
{"p":"52","s":"GA","x":0,"y":-0.11},{"p":"52","s":"GA","x":2.7,"y":-0.3},{"p":"52","s":"GA","x":5,"y":-1.43},{"p":"52","s":"GA","x":7.9,"y":-1.5},{"p":"52","s":"GA","x":8.5,"y":-2.19},{"p":"52","s":"GA","x":11.9,"y":-2.26},{"p":"52","s":"GA","x":12.7,"y":-2.75},{"p":"52","s":"GA","x":18.2,"y":-4.08},{"p":"52","s":"GA","x":19,"y":-5.02},{"p":"52","s":"GA","x":19.6,"y":-13.7},{"p":"52","s":"GA","x":21.1,"y":-13.7},
{"p":"52","s":"GD","x":0,"y":-0.11},{"p":"52","s":"GD","x":5,"y":-1.43},{"p":"52","s":"GD","x":10.7,"y":-1.5},{"p":"52","s":"GD","x":11.9,"y":-2.57},{"p":"52","s":"GD","x":14.2,"y":-3.32},{"p":"52","s":"GD","x":18.2,"y":-4.26},{"p":"52","s":"GD","x":19.6,"y":-4.83},{"p":"52","s":"GD","x":20.2,"y":-8.23},{"p":"52","s":"GD","x":20.7,"y":-13.5},{"p":"52","s":"GD","x":20.9,"y":-13.7},
{"p":"52","s":"ED","x":0,"y":-0.11},{"p":"52","s":"ED","x":5,"y":-1.43},{"p":"52","s":"ED","x":8.5,"y":-1.62},{"p":"52","s":"ED","x":10.2,"y":-2.19},{"p":"52","s":"ED","x":12.5,"y":-2.75},{"p":"52","s":"ED","x":15.9,"y":-3.32},{"p":"52","s":"ED","x":18.2,"y":-3.89},{"p":"52","s":"ED","x":20.7,"y":-4.45},{"p":"52","s":"ED","x":21,"y":-4.83},{"p":"52","s":"ED","x":21.6,"y":-13.5},{"p":"52","s":"ED","x":22,"y":-13.7},
{"p":"53","s":"NC","x":0,"y":0.0},{"p":"53","s":"NC","x":300,"y":-1.81},{"p":"53","s":"NC","x":600,"y":-2.57},{"p":"53","s":"NC","x":800,"y":-2.75},
{"p":"53","s":"SU","x":0,"y":-0.5},{"p":"53","s":"SU","x":500,"y":-2.0},{"p":"53","s":"SU","x":800,"y":-2.9},
{"p":"53","s":"EA","x":0,"y":-1.06},{"p":"53","s":"EA","x":600,"y":-3.32},{"p":"53","s":"EA","x":10400,"y":-3.51},{"p":"53","s":"EA","x":16700,"y":-4.08},{"p":"53","s":"EA","x":20400,"y":-5.02},{"p":"53","s":"EA","x":23100,"y":-8.98},{"p":"53","s":"EA","x":25700,"y":-13.7},
{"p":"53","s":"GA","x":0,"y":-1.06},{"p":"53","s":"GA","x":800,"y":-2.38},{"p":"53","s":"GA","x":4000,"y":-2.38},{"p":"53","s":"GA","x":6100,"y":-3.51},{"p":"53","s":"GA","x":10400,"y":-4.08},{"p":"53","s":"GA","x":16700,"y":-5.4},{"p":"53","s":"GA","x":25700,"y":-13.3},{"p":"53","s":"GA","x":26200,"y":-13.7},
{"p":"53","s":"GD","x":0,"y":-1.06},{"p":"53","s":"GD","x":800,"y":-2.19},{"p":"53","s":"GD","x":5100,"y":-3.32},{"p":"53","s":"GD","x":7200,"y":-4.26},{"p":"53","s":"GD","x":15700,"y":-4.26},{"p":"53","s":"GD","x":17200,"y":-5.02},{"p":"53","s":"GD","x":18300,"y":-8.6},{"p":"53","s":"GD","x":18800,"y":-13.7},
{"p":"53","s":"ED","x":0,"y":-1.06},{"p":"53","s":"ED","x":800,"y":-1.43},{"p":"53","s":"ED","x":4000,"y":-2.19},{"p":"53","s":"ED","x":10400,"y":-3.25},{"p":"53","s":"ED","x":19900,"y":-3.51},{"p":"53","s":"ED","x":23100,"y":-4.26},{"p":"53","s":"ED","x":35800,"y":-4.45},{"p":"53","s":"ED","x":36300,"y":-4.64},{"p":"53","s":"ED","x":38400,"y":-8.6},{"p":"53","s":"ED","x":40000,"y":-13.7}
]},
"columns": 3,
"spacing": {"row": 39.5, "column": 49},
"bounds": "flush",
"concat": [
{"width":292.5,"height":128,"layer":[
 {"data":{"values":[{"acc":-2.8}]},"mark":{"type":"rect","color":"#fef0cf","clip":true},"encoding":{"x":{"datum":0,"type":"quantitative","scale":{"domain":[0,1424000],"nice":false,"zero":false},"axis":{"title":null,"values":[0,300000,600000,900000,1200000,1424000],"labelExpr":"datum.value>1300000?'×10⁶':format(datum.value/1e6,'.1f')","tickOpacity":{"condition":{"test":"datum.value>1300000","value":0},"value":1}}},"x2":{"datum":1e12},"y":{"field":"acc","type":"quantitative","scale":{"domain":[-9.75,-0.8],"nice":false,"zero":false},"axis":{"values":[-2,-4,-6,-8],"tickCount":12,"labelExpr":"''+datum.value","title":"H₂O (N = 14)","titleFontSize":17,"titleX":-106,"titleBaseline":"middle"}},"y2":{"datum":-100}}},
 {"transform":[{"filter":"datum.p=='11'&&indexof(['GA','EA','NC'],datum.s)>=0"}],"mark":{"type":"line","strokeWidth":2.5,"clip":true},"encoding":{"x":{"field":"x","type":"quantitative"},"y":{"field":"y","type":"quantitative"},"color":{"field":"s","type":"nominal","scale":{"domain":["GA","EA","NC","GD","ED","SU"],"range":["#ff1f5b","#64aaff","#ff6a00","#5fd39f","#4b3a8c","#ff6a00"]}}}},
 {"transform":[{"filter":"datum.p=='11'&&indexof(['GD','ED','SU'],datum.s)>=0"}],"mark":{"type":"line","strokeWidth":2.5,"strokeDash":[7,3.5],"clip":true},"encoding":{"x":{"field":"x","type":"quantitative"},"y":{"field":"y","type":"quantitative"},"color":{"field":"s","type":"nominal"}}},
 {"transform":[{"filter":"datum.p=='11'&&indexof(['GA','ED'],datum.s)>=0"},{"joinaggregate":[{"op":"max","field":"x","as":"mx"}],"groupby":["s"]},{"filter":"datum.x==datum.mx"}],"mark":{"type":"point","shape":"M0,-1V1M-1,0H1","filled":false,"strokeWidth":2,"opacity":1,"size":169,"clip":true},"encoding":{"x":{"field":"x","type":"quantitative"},"y":{"field":"y","type":"quantitative"},"color":{"field":"s","type":"nominal"}}},
 {"transform":[{"filter":"datum.p=='11'&&indexof(['EA','GD'],datum.s)>=0"},{"joinaggregate":[{"op":"max","field":"x","as":"mx"}],"groupby":["s"]},{"filter":"datum.x==datum.mx"}],"mark":{"type":"point","shape":"M-1,-1L1,1M-1,1L1,-1","filled":false,"strokeWidth":2,"opacity":1,"size":169,"clip":true},"encoding":{"x":{"field":"x","type":"quantitative"},"y":{"field":"y","type":"quantitative"},"color":{"field":"s","type":"nominal"}}},
 {"transform":[{"filter":"datum.p=='11'&&indexof(['NC','SU'],datum.s)>=0"},{"joinaggregate":[{"op":"max","field":"x","as":"mx"}],"groupby":["s"]},{"filter":"datum.x==datum.mx"}],"mark":{"type":"point","shape":"M-1.15,-1.15H1.15V1.15H-1.15Z","filled":false,"strokeWidth":2,"opacity":1,"size":169,"clip":true},"encoding":{"x":{"field":"x","type":"quantitative"},"y":{"field":"y","type":"quantitative"},"color":{"field":"s","type":"nominal"}}},
 {"transform":[{"filter":"datum.p=='none'"}],"mark":{"type":"point","filled":false,"opacity":1,"clip":true},"encoding":{"x":{"field":"x","type":"quantitative"},"y":{"field":"y","type":"quantitative"},
  "color":{"field":"s","type":"nominal","legend":{"title":null,"orient":"none","legendX":-133,"legendY":915,"direction":"horizontal","columns":3,"symbolSize":900,"symbolStrokeWidth":2.2,"symbolOpacity":1,"labelOffset":37,"labelLimit":1000,"columnPadding":49,"rowPadding":2,"padding":4,"strokeColor":"#cccccc","cornerRadius":4,"fillColor":"white",
    "labelExpr":"datum.value=='GA'?'QEB Gradient ADAPT':datum.value=='EA'?'QEB Energy ADAPT':datum.value=='NC'?'qubit Dynamic Non-Commutation':datum.value=='GD'?'QEB Gradient Dynamic':datum.value=='ED'?'QEB Energy Dynamic':'qubit Dynamic Support'"}},
  "shape":{"field":"s","type":"nominal","scale":{"domain":["GA","EA","NC","GD","ED","SU"],"range":["M-0.75,0H2.25M0.75,-0.45V0.45M0.3,0H1.2","M-0.75,0H2.25M0.35,-0.4L1.15,0.4M0.35,0.4L1.15,-0.4","M-0.75,0H2.25M0.3,-0.45H1.2V0.45H0.3Z","M-0.75,0H0M1.5,0H2.25M0.35,-0.4L1.15,0.4M0.35,0.4L1.15,-0.4","M-0.75,0H0M1.5,0H2.25M0.75,-0.45V0.45M0.3,0H1.2","M-0.75,0H0M1.5,0H2.25M0.3,0H1.2M0.3,-0.45H1.2V0.45H0.3Z"]},"legend":null}}}
]},
{"width":292.5,"height":128,"layer":[
 {"data":{"values":[{"acc":-2.8}]},"mark":{"type":"rect","color":"#fef0cf","clip":true},"encoding":{"x":{"datum":0,"type":"quantitative","scale":{"domain":[0,255],"nice":false,"zero":false},"axis":{"title":null,"values":[0,60,120,180,240]}},"x2":{"datum":1e12},"y":{"field":"acc","type":"quantitative","scale":{"domain":[-9.75,-0.8],"nice":false,"zero":false},"axis":null},"y2":{"datum":-100}}},
 {"transform":[{"filter":"datum.p=='12'&&indexof(['GA','EA','NC'],datum.s)>=0"}],"mark":{"type":"line","strokeWidth":2.5,"clip":true},"encoding":{"x":{"field":"x","type":"quantitative"},"y":{"field":"y","type":"quantitative"},"color":{"field":"s","type":"nominal"}}},
 {"transform":[{"filter":"datum.p=='12'&&indexof(['GD','ED','SU'],datum.s)>=0"}],"mark":{"type":"line","strokeWidth":2.5,"strokeDash":[7,3.5],"clip":true},"encoding":{"x":{"field":"x","type":"quantitative"},"y":{"field":"y","type":"quantitative"},"color":{"field":"s","type":"nominal"}}},
 {"transform":[{"filter":"datum.p=='12'&&indexof(['GA','ED'],datum.s)>=0"},{"joinaggregate":[{"op":"max","field":"x","as":"mx"}],"groupby":["s"]},{"filter":"datum.x==datum.mx"}],"mark":{"type":"point","shape":"M0,-1V1M-1,0H1","filled":false,"strokeWidth":2,"opacity":1,"size":169,"clip":true},"encoding":{"x":{"field":"x","type":"quantitative"},"y":{"field":"y","type":"quantitative"},"color":{"field":"s","type":"nominal"}}},
 {"transform":[{"filter":"datum.p=='12'&&indexof(['EA','GD'],datum.s)>=0"},{"joinaggregate":[{"op":"max","field":"x","as":"mx"}],"groupby":["s"]},{"filter":"datum.x==datum.mx"}],"mark":{"type":"point","shape":"M-1,-1L1,1M-1,1L1,-1","filled":false,"strokeWidth":2,"opacity":1,"size":169,"clip":true},"encoding":{"x":{"field":"x","type":"quantitative"},"y":{"field":"y","type":"quantitative"},"color":{"field":"s","type":"nominal"}}},
 {"transform":[{"filter":"datum.p=='12'&&indexof(['NC','SU'],datum.s)>=0"},{"joinaggregate":[{"op":"max","field":"x","as":"mx"}],"groupby":["s"]},{"filter":"datum.x==datum.mx"}],"mark":{"type":"point","shape":"M-1.15,-1.15H1.15V1.15H-1.15Z","filled":false,"strokeWidth":2,"opacity":1,"size":169,"clip":true},"encoding":{"x":{"field":"x","type":"quantitative"},"y":{"field":"y","type":"quantitative"},"color":{"field":"s","type":"nominal"}}}
]},
{"width":292.5,"height":128,"layer":[
 {"data":{"values":[{"acc":-2.8}]},"mark":{"type":"rect","color":"#fef0cf","clip":true},"encoding":{"x":{"datum":0,"type":"quantitative","scale":{"domain":[0,8500000],"nice":false,"zero":false},"axis":{"title":null,"values":[0,2000000,4000000,6000000,8000000,8500000],"labelExpr":"datum.value>8200000?'×10⁶':format(datum.value/1e6,'d')","labelAlign":{"condition":{"test":"datum.value>8200000","value":"left"},"value":"center"},"tickOpacity":{"condition":{"test":"datum.value>8200000","value":0},"value":1}}},"x2":{"datum":1e12},"y":{"field":"acc","type":"quantitative","scale":{"domain":[-9.75,-0.8],"nice":false,"zero":false},"axis":null},"y2":{"datum":-100}}},
 {"transform":[{"filter":"datum.p=='13'&&indexof(['GA','EA','NC'],datum.s)>=0"}],"mark":{"type":"line","strokeWidth":2.5,"clip":true},"encoding":{"x":{"field":"x","type":"quantitative"},"y":{"field":"y","type":"quantitative"},"color":{"field":"s","type":"nominal"}}},
 {"transform":[{"filter":"datum.p=='13'&&indexof(['GD','ED','SU'],datum.s)>=0"}],"mark":{"type":"line","strokeWidth":2.5,"strokeDash":[7,3.5],"clip":true},"encoding":{"x":{"field":"x","type":"quantitative"},"y":{"field":"y","type":"quantitative"},"color":{"field":"s","type":"nominal"}}},
 {"transform":[{"filter":"datum.p=='13'&&indexof(['GA','ED'],datum.s)>=0"},{"joinaggregate":[{"op":"max","field":"x","as":"mx"}],"groupby":["s"]},{"filter":"datum.x==datum.mx"}],"mark":{"type":"point","shape":"M0,-1V1M-1,0H1","filled":false,"strokeWidth":2,"opacity":1,"size":169,"clip":true},"encoding":{"x":{"field":"x","type":"quantitative"},"y":{"field":"y","type":"quantitative"},"color":{"field":"s","type":"nominal"}}},
 {"transform":[{"filter":"datum.p=='13'&&indexof(['EA','GD'],datum.s)>=0"},{"joinaggregate":[{"op":"max","field":"x","as":"mx"}],"groupby":["s"]},{"filter":"datum.x==datum.mx"}],"mark":{"type":"point","shape":"M-1,-1L1,1M-1,1L1,-1","filled":false,"strokeWidth":2,"opacity":1,"size":169,"clip":true},"encoding":{"x":{"field":"x","type":"quantitative"},"y":{"field":"y","type":"quantitative"},"color":{"field":"s","type":"nominal"}}},
 {"transform":[{"filter":"datum.p=='13'&&indexof(['NC','SU'],datum.s)>=0"},{"joinaggregate":[{"op":"max","field":"x","as":"mx"}],"groupby":["s"]},{"filter":"datum.x==datum.mx"}],"mark":{"type":"point","shape":"M-1.15,-1.15H1.15V1.15H-1.15Z","filled":false,"strokeWidth":2,"opacity":1,"size":169,"clip":true},"encoding":{"x":{"field":"x","type":"quantitative"},"y":{"field":"y","type":"quantitative"},"color":{"field":"s","type":"nominal"}}}
]},
{"width":292.5,"height":128,"layer":[
 {"data":{"values":[{"acc":-2.8}]},"mark":{"type":"rect","color":"#fef0cf","clip":true},"encoding":{"x":{"datum":0,"type":"quantitative","scale":{"domain":[0,1488000],"nice":false,"zero":false},"axis":{"title":null,"values":[0,300000,600000,900000,1200000,1488000],"labelExpr":"datum.value>1300000?'×10⁶':format(datum.value/1e6,'.1f')","tickOpacity":{"condition":{"test":"datum.value>1300000","value":0},"value":1}}},"x2":{"datum":1e12},"y":{"field":"acc","type":"quantitative","scale":{"domain":[-8.54,-1.23],"nice":false,"zero":false},"axis":{"values":[-2,-4,-6,-8],"tickCount":12,"labelExpr":"''+datum.value","title":"BeH₂ (N = 14)","titleFontSize":17,"titleX":-106,"titleBaseline":"middle"}},"y2":{"datum":-100}}},
 {"transform":[{"filter":"datum.p=='21'&&indexof(['GA','EA','NC'],datum.s)>=0"}],"mark":{"type":"line","strokeWidth":2.5,"clip":true},"encoding":{"x":{"field":"x","type":"quantitative"},"y":{"field":"y","type":"quantitative"},"color":{"field":"s","type":"nominal"}}},
 {"transform":[{"filter":"datum.p=='21'&&indexof(['GD','ED','SU'],datum.s)>=0"}],"mark":{"type":"line","strokeWidth":2.5,"strokeDash":[7,3.5],"clip":true},"encoding":{"x":{"field":"x","type":"quantitative"},"y":{"field":"y","type":"quantitative"},"color":{"field":"s","type":"nominal"}}},
 {"transform":[{"filter":"datum.p=='21'&&indexof(['GA','ED'],datum.s)>=0"},{"joinaggregate":[{"op":"max","field":"x","as":"mx"}],"groupby":["s"]},{"filter":"datum.x==datum.mx"}],"mark":{"type":"point","shape":"M0,-1V1M-1,0H1","filled":false,"strokeWidth":2,"opacity":1,"size":169,"clip":true},"encoding":{"x":{"field":"x","type":"quantitative"},"y":{"field":"y","type":"quantitative"},"color":{"field":"s","type":"nominal"}}},
 {"transform":[{"filter":"datum.p=='21'&&indexof(['EA','GD'],datum.s)>=0"},{"joinaggregate":[{"op":"max","field":"x","as":"mx"}],"groupby":["s"]},{"filter":"datum.x==datum.mx"}],"mark":{"type":"point","shape":"M-1,-1L1,1M-1,1L1,-1","filled":false,"strokeWidth":2,"opacity":1,"size":169,"clip":true},"encoding":{"x":{"field":"x","type":"quantitative"},"y":{"field":"y","type":"quantitative"},"color":{"field":"s","type":"nominal"}}},
 {"transform":[{"filter":"datum.p=='21'&&indexof(['NC','SU'],datum.s)>=0"},{"joinaggregate":[{"op":"max","field":"x","as":"mx"}],"groupby":["s"]},{"filter":"datum.x==datum.mx"}],"mark":{"type":"point","shape":"M-1.15,-1.15H1.15V1.15H-1.15Z","filled":false,"strokeWidth":2,"opacity":1,"size":169,"clip":true},"encoding":{"x":{"field":"x","type":"quantitative"},"y":{"field":"y","type":"quantitative"},"color":{"field":"s","type":"nominal"}}}
]},
{"width":292.5,"height":128,"layer":[
 {"data":{"values":[{"acc":-2.8}]},"mark":{"type":"rect","color":"#fef0cf","clip":true},"encoding":{"x":{"datum":0,"type":"quantitative","scale":{"domain":[0,275],"nice":false,"zero":false},"axis":{"title":null,"values":[0,60,120,180,240]}},"x2":{"datum":1e12},"y":{"field":"acc","type":"quantitative","scale":{"domain":[-8.54,-1.23],"nice":false,"zero":false},"axis":null},"y2":{"datum":-100}}},
 {"transform":[{"filter":"datum.p=='22'&&indexof(['GA','EA','NC'],datum.s)>=0"}],"mark":{"type":"line","strokeWidth":2.5,"clip":true},"encoding":{"x":{"field":"x","type":"quantitative"},"y":{"field":"y","type":"quantitative"},"color":{"field":"s","type":"nominal"}}},
 {"transform":[{"filter":"datum.p=='22'&&indexof(['GD','ED','SU'],datum.s)>=0"}],"mark":{"type":"line","strokeWidth":2.5,"strokeDash":[7,3.5],"clip":true},"encoding":{"x":{"field":"x","type":"quantitative"},"y":{"field":"y","type":"quantitative"},"color":{"field":"s","type":"nominal"}}},
 {"transform":[{"filter":"datum.p=='22'&&indexof(['GA','ED'],datum.s)>=0"},{"joinaggregate":[{"op":"max","field":"x","as":"mx"}],"groupby":["s"]},{"filter":"datum.x==datum.mx"}],"mark":{"type":"point","shape":"M0,-1V1M-1,0H1","filled":false,"strokeWidth":2,"opacity":1,"size":169,"clip":true},"encoding":{"x":{"field":"x","type":"quantitative"},"y":{"field":"y","type":"quantitative"},"color":{"field":"s","type":"nominal"}}},
 {"transform":[{"filter":"datum.p=='22'&&indexof(['EA','GD'],datum.s)>=0"},{"joinaggregate":[{"op":"max","field":"x","as":"mx"}],"groupby":["s"]},{"filter":"datum.x==datum.mx"}],"mark":{"type":"point","shape":"M-1,-1L1,1M-1,1L1,-1","filled":false,"strokeWidth":2,"opacity":1,"size":169,"clip":true},"encoding":{"x":{"field":"x","type":"quantitative"},"y":{"field":"y","type":"quantitative"},"color":{"field":"s","type":"nominal"}}},
 {"transform":[{"filter":"datum.p=='22'&&indexof(['NC','SU'],datum.s)>=0"},{"joinaggregate":[{"op":"max","field":"x","as":"mx"}],"groupby":["s"]},{"filter":"datum.x==datum.mx"}],"mark":{"type":"point","shape":"M-1.15,-1.15H1.15V1.15H-1.15Z","filled":false,"strokeWidth":2,"opacity":1,"size":169,"clip":true},"encoding":{"x":{"field":"x","type":"quantitative"},"y":{"field":"y","type":"quantitative"},"color":{"field":"s","type":"nominal"}}}
]},
{"width":292.5,"height":128,"layer":[
 {"data":{"values":[{"acc":-2.8}]},"mark":{"type":"rect","color":"#fef0cf","clip":true},"encoding":{"x":{"datum":0,"type":"quantitative","scale":{"domain":[0,24700000],"nice":false,"zero":false},"axis":{"title":null,"values":[0,5000000,10000000,15000000,20000000,24700000],"labelExpr":"datum.value>22000000?'×10⁷':format(datum.value/1e7,'.1f')","labelAlign":{"condition":{"test":"datum.value>22000000","value":"left"},"value":"center"},"tickOpacity":{"condition":{"test":"datum.value>22000000","value":0},"value":1}}},"x2":{"datum":1e12},"y":{"field":"acc","type":"quantitative","scale":{"domain":[-8.54,-1.23],"nice":false,"zero":false},"axis":null},"y2":{"datum":-100}}},
 {"transform":[{"filter":"datum.p=='23'&&indexof(['GA','EA','NC'],datum.s)>=0"}],"mark":{"type":"line","strokeWidth":2.5,"clip":true},"encoding":{"x":{"field":"x","type":"quantitative"},"y":{"field":"y","type":"quantitative"},"color":{"field":"s","type":"nominal"}}},
 {"transform":[{"filter":"datum.p=='23'&&indexof(['GD','ED','SU'],datum.s)>=0"}],"mark":{"type":"line","strokeWidth":2.5,"strokeDash":[7,3.5],"clip":true},"encoding":{"x":{"field":"x","type":"quantitative"},"y":{"field":"y","type":"quantitative"},"color":{"field":"s","type":"nominal"}}},
 {"transform":[{"filter":"datum.p=='23'&&indexof(['GA','ED'],datum.s)>=0"},{"joinaggregate":[{"op":"max","field":"x","as":"mx"}],"groupby":["s"]},{"filter":"datum.x==datum.mx"}],"mark":{"type":"point","shape":"M0,-1V1M-1,0H1","filled":false,"strokeWidth":2,"opacity":1,"size":169,"clip":true},"encoding":{"x":{"field":"x","type":"quantitative"},"y":{"field":"y","type":"quantitative"},"color":{"field":"s","type":"nominal"}}},
 {"transform":[{"filter":"datum.p=='23'&&indexof(['EA','GD'],datum.s)>=0"},{"joinaggregate":[{"op":"max","field":"x","as":"mx"}],"groupby":["s"]},{"filter":"datum.x==datum.mx"}],"mark":{"type":"point","shape":"M-1,-1L1,1M-1,1L1,-1","filled":false,"strokeWidth":2,"opacity":1,"size":169,"clip":true},"encoding":{"x":{"field":"x","type":"quantitative"},"y":{"field":"y","type":"quantitative"},"color":{"field":"s","type":"nominal"}}},
 {"transform":[{"filter":"datum.p=='23'&&indexof(['NC','SU'],datum.s)>=0"},{"joinaggregate":[{"op":"max","field":"x","as":"mx"}],"groupby":["s"]},{"filter":"datum.x==datum.mx"}],"mark":{"type":"point","shape":"M-1.15,-1.15H1.15V1.15H-1.15Z","filled":false,"strokeWidth":2,"opacity":1,"size":169,"clip":true},"encoding":{"x":{"field":"x","type":"quantitative"},"y":{"field":"y","type":"quantitative"},"color":{"field":"s","type":"nominal"}}}
]},
{"width":292.5,"height":128,"layer":[
 {"data":{"values":[{"acc":-2.8}]},"mark":{"type":"rect","color":"#fef0cf","clip":true},"encoding":{"x":{"datum":0,"type":"quantitative","scale":{"domain":[0,2466000],"nice":false,"zero":false},"axis":{"title":null,"values":[0,500000,1000000,1500000,2000000,2466000],"labelExpr":"datum.value>2200000?'×10⁶':format(datum.value/1e6,'.1f')","tickOpacity":{"condition":{"test":"datum.value>2200000","value":0},"value":1}}},"x2":{"datum":1e12},"y":{"field":"acc","type":"quantitative","scale":{"domain":[-11.2,-0.75],"nice":false,"zero":false},"axis":{"values":[-3,-6,-9],"tickCount":12,"labelExpr":"''+datum.value","title":"H₆ (N = 12)","titleFontSize":17,"titleX":-106,"titleBaseline":"middle"}},"y2":{"datum":-100}}},
 {"transform":[{"filter":"datum.p=='31'&&indexof(['GA','EA','NC'],datum.s)>=0"}],"mark":{"type":"line","strokeWidth":2.5,"clip":true},"encoding":{"x":{"field":"x","type":"quantitative"},"y":{"field":"y","type":"quantitative"},"color":{"field":"s","type":"nominal"}}},
 {"transform":[{"filter":"datum.p=='31'&&indexof(['GD','ED','SU'],datum.s)>=0"}],"mark":{"type":"line","strokeWidth":2.5,"strokeDash":[7,3.5],"clip":true},"encoding":{"x":{"field":"x","type":"quantitative"},"y":{"field":"y","type":"quantitative"},"color":{"field":"s","type":"nominal"}}},
 {"transform":[{"filter":"datum.p=='31'&&indexof(['GA','ED'],datum.s)>=0"},{"joinaggregate":[{"op":"max","field":"x","as":"mx"}],"groupby":["s"]},{"filter":"datum.x==datum.mx"}],"mark":{"type":"point","shape":"M0,-1V1M-1,0H1","filled":false,"strokeWidth":2,"opacity":1,"size":169,"clip":true},"encoding":{"x":{"field":"x","type":"quantitative"},"y":{"field":"y","type":"quantitative"},"color":{"field":"s","type":"nominal"}}},
 {"transform":[{"filter":"datum.p=='31'&&indexof(['EA','GD'],datum.s)>=0"},{"joinaggregate":[{"op":"max","field":"x","as":"mx"}],"groupby":["s"]},{"filter":"datum.x==datum.mx"}],"mark":{"type":"point","shape":"M-1,-1L1,1M-1,1L1,-1","filled":false,"strokeWidth":2,"opacity":1,"size":169,"clip":true},"encoding":{"x":{"field":"x","type":"quantitative"},"y":{"field":"y","type":"quantitative"},"color":{"field":"s","type":"nominal"}}},
 {"transform":[{"filter":"datum.p=='31'&&indexof(['NC','SU'],datum.s)>=0"},{"joinaggregate":[{"op":"max","field":"x","as":"mx"}],"groupby":["s"]},{"filter":"datum.x==datum.mx"}],"mark":{"type":"point","shape":"M-1.15,-1.15H1.15V1.15H-1.15Z","filled":false,"strokeWidth":2,"opacity":1,"size":169,"clip":true},"encoding":{"x":{"field":"x","type":"quantitative"},"y":{"field":"y","type":"quantitative"},"color":{"field":"s","type":"nominal"}}}
]},
{"width":292.5,"height":128,"layer":[
 {"data":{"values":[{"acc":-2.8}]},"mark":{"type":"rect","color":"#fef0cf","clip":true},"encoding":{"x":{"datum":0,"type":"quantitative","scale":{"domain":[0,309],"nice":false,"zero":false},"axis":{"title":null,"values":[0,80,160,240]}},"x2":{"datum":1e12},"y":{"field":"acc","type":"quantitative","scale":{"domain":[-11.2,-0.75],"nice":false,"zero":false},"axis":null},"y2":{"datum":-100}}},
 {"transform":[{"filter":"datum.p=='32'&&indexof(['GA','EA','NC'],datum.s)>=0"}],"mark":{"type":"line","strokeWidth":2.5,"clip":true},"encoding":{"x":{"field":"x","type":"quantitative"},"y":{"field":"y","type":"quantitative"},"color":{"field":"s","type":"nominal"}}},
 {"transform":[{"filter":"datum.p=='32'&&indexof(['GD','ED','SU'],datum.s)>=0"}],"mark":{"type":"line","strokeWidth":2.5,"strokeDash":[7,3.5],"clip":true},"encoding":{"x":{"field":"x","type":"quantitative"},"y":{"field":"y","type":"quantitative"},"color":{"field":"s","type":"nominal"}}},
 {"transform":[{"filter":"datum.p=='32'&&indexof(['GA','ED'],datum.s)>=0"},{"joinaggregate":[{"op":"max","field":"x","as":"mx"}],"groupby":["s"]},{"filter":"datum.x==datum.mx"}],"mark":{"type":"point","shape":"M0,-1V1M-1,0H1","filled":false,"strokeWidth":2,"opacity":1,"size":169,"clip":true},"encoding":{"x":{"field":"x","type":"quantitative"},"y":{"field":"y","type":"quantitative"},"color":{"field":"s","type":"nominal"}}},
 {"transform":[{"filter":"datum.p=='32'&&indexof(['EA','GD'],datum.s)>=0"},{"joinaggregate":[{"op":"max","field":"x","as":"mx"}],"groupby":["s"]},{"filter":"datum.x==datum.mx"}],"mark":{"type":"point","shape":"M-1,-1L1,1M-1,1L1,-1","filled":false,"strokeWidth":2,"opacity":1,"size":169,"clip":true},"encoding":{"x":{"field":"x","type":"quantitative"},"y":{"field":"y","type":"quantitative"},"color":{"field":"s","type":"nominal"}}},
 {"transform":[{"filter":"datum.p=='32'&&indexof(['NC','SU'],datum.s)>=0"},{"joinaggregate":[{"op":"max","field":"x","as":"mx"}],"groupby":["s"]},{"filter":"datum.x==datum.mx"}],"mark":{"type":"point","shape":"M-1.15,-1.15H1.15V1.15H-1.15Z","filled":false,"strokeWidth":2,"opacity":1,"size":169,"clip":true},"encoding":{"x":{"field":"x","type":"quantitative"},"y":{"field":"y","type":"quantitative"},"color":{"field":"s","type":"nominal"}}}
]},
{"width":292.5,"height":128,"layer":[
 {"data":{"values":[{"acc":-2.8}]},"mark":{"type":"rect","color":"#fef0cf","clip":true},"encoding":{"x":{"datum":0,"type":"quantitative","scale":{"domain":[0,19200000],"nice":false,"zero":false},"axis":{"title":null,"values":[0,4000000,8000000,12000000,16000000,19200000],"labelExpr":"datum.value>18000000?'×10⁷':format(datum.value/1e7,'.1f')","labelAlign":{"condition":{"test":"datum.value>18000000","value":"left"},"value":"center"},"tickOpacity":{"condition":{"test":"datum.value>18000000","value":0},"value":1}}},"x2":{"datum":1e12},"y":{"field":"acc","type":"quantitative","scale":{"domain":[-11.2,-0.75],"nice":false,"zero":false},"axis":null},"y2":{"datum":-100}}},
 {"transform":[{"filter":"datum.p=='33'&&indexof(['GA','EA','NC'],datum.s)>=0"}],"mark":{"type":"line","strokeWidth":2.5,"clip":true},"encoding":{"x":{"field":"x","type":"quantitative"},"y":{"field":"y","type":"quantitative"},"color":{"field":"s","type":"nominal"}}},
 {"transform":[{"filter":"datum.p=='33'&&indexof(['GD','ED','SU'],datum.s)>=0"}],"mark":{"type":"line","strokeWidth":2.5,"strokeDash":[7,3.5],"clip":true},"encoding":{"x":{"field":"x","type":"quantitative"},"y":{"field":"y","type":"quantitative"},"color":{"field":"s","type":"nominal"}}},
 {"transform":[{"filter":"datum.p=='33'&&indexof(['GA','ED'],datum.s)>=0"},{"joinaggregate":[{"op":"max","field":"x","as":"mx"}],"groupby":["s"]},{"filter":"datum.x==datum.mx"}],"mark":{"type":"point","shape":"M0,-1V1M-1,0H1","filled":false,"strokeWidth":2,"opacity":1,"size":169,"clip":true},"encoding":{"x":{"field":"x","type":"quantitative"},"y":{"field":"y","type":"quantitative"},"color":{"field":"s","type":"nominal"}}},
 {"transform":[{"filter":"datum.p=='33'&&indexof(['EA','GD'],datum.s)>=0"},{"joinaggregate":[{"op":"max","field":"x","as":"mx"}],"groupby":["s"]},{"filter":"datum.x==datum.mx"}],"mark":{"type":"point","shape":"M-1,-1L1,1M-1,1L1,-1","filled":false,"strokeWidth":2,"opacity":1,"size":169,"clip":true},"encoding":{"x":{"field":"x","type":"quantitative"},"y":{"field":"y","type":"quantitative"},"color":{"field":"s","type":"nominal"}}},
 {"transform":[{"filter":"datum.p=='33'&&indexof(['NC','SU'],datum.s)>=0"},{"joinaggregate":[{"op":"max","field":"x","as":"mx"}],"groupby":["s"]},{"filter":"datum.x==datum.mx"}],"mark":{"type":"point","shape":"M-1.15,-1.15H1.15V1.15H-1.15Z","filled":false,"strokeWidth":2,"opacity":1,"size":169,"clip":true},"encoding":{"x":{"field":"x","type":"quantitative"},"y":{"field":"y","type":"quantitative"},"color":{"field":"s","type":"nominal"}}}
]},
{"width":292.5,"height":128,"layer":[
 {"data":{"values":[{"acc":-2.8}]},"mark":{"type":"rect","color":"#fef0cf","clip":true},"encoding":{"x":{"datum":0,"type":"quantitative","scale":{"domain":[0,444500],"nice":false,"zero":false},"axis":{"title":null,"values":[0,100000,200000,300000,400000,444500],"labelExpr":"datum.value>420000?'×10⁵':format(datum.value/1e5,'d')","tickOpacity":{"condition":{"test":"datum.value>420000","value":0},"value":1}}},"x2":{"datum":1e12},"y":{"field":"acc","type":"quantitative","scale":{"domain":[-10.4,-1.34],"nice":false,"zero":false},"axis":{"values":[-2,-4,-6,-8,-10],"tickCount":12,"labelExpr":"''+datum.value","title":"LiH (N = 12)","titleFontSize":17,"titleX":-106,"titleBaseline":"middle"}},"y2":{"datum":-100}}},
 {"transform":[{"filter":"datum.p=='41'&&indexof(['GA','EA','NC'],datum.s)>=0"}],"mark":{"type":"line","strokeWidth":2.5,"clip":true},"encoding":{"x":{"field":"x","type":"quantitative"},"y":{"field":"y","type":"quantitative"},"color":{"field":"s","type":"nominal"}}},
 {"transform":[{"filter":"datum.p=='41'&&indexof(['GD','ED','SU'],datum.s)>=0"}],"mark":{"type":"line","strokeWidth":2.5,"strokeDash":[7,3.5],"clip":true},"encoding":{"x":{"field":"x","type":"quantitative"},"y":{"field":"y","type":"quantitative"},"color":{"field":"s","type":"nominal"}}},
 {"transform":[{"filter":"datum.p=='41'&&indexof(['GA','ED'],datum.s)>=0"},{"joinaggregate":[{"op":"max","field":"x","as":"mx"}],"groupby":["s"]},{"filter":"datum.x==datum.mx"}],"mark":{"type":"point","shape":"M0,-1V1M-1,0H1","filled":false,"strokeWidth":2,"opacity":1,"size":169,"clip":true},"encoding":{"x":{"field":"x","type":"quantitative"},"y":{"field":"y","type":"quantitative"},"color":{"field":"s","type":"nominal"}}},
 {"transform":[{"filter":"datum.p=='41'&&indexof(['EA','GD'],datum.s)>=0"},{"joinaggregate":[{"op":"max","field":"x","as":"mx"}],"groupby":["s"]},{"filter":"datum.x==datum.mx"}],"mark":{"type":"point","shape":"M-1,-1L1,1M-1,1L1,-1","filled":false,"strokeWidth":2,"opacity":1,"size":169,"clip":true},"encoding":{"x":{"field":"x","type":"quantitative"},"y":{"field":"y","type":"quantitative"},"color":{"field":"s","type":"nominal"}}},
 {"transform":[{"filter":"datum.p=='41'&&indexof(['NC','SU'],datum.s)>=0"},{"joinaggregate":[{"op":"max","field":"x","as":"mx"}],"groupby":["s"]},{"filter":"datum.x==datum.mx"}],"mark":{"type":"point","shape":"M-1.15,-1.15H1.15V1.15H-1.15Z","filled":false,"strokeWidth":2,"opacity":1,"size":169,"clip":true},"encoding":{"x":{"field":"x","type":"quantitative"},"y":{"field":"y","type":"quantitative"},"color":{"field":"s","type":"nominal"}}}
]},
{"width":292.5,"height":128,"layer":[
 {"data":{"values":[{"acc":-2.8}]},"mark":{"type":"rect","color":"#fef0cf","clip":true},"encoding":{"x":{"datum":0,"type":"quantitative","scale":{"domain":[0,188.7],"nice":false,"zero":false},"axis":{"title":null,"values":[0,40,80,120,160]}},"x2":{"datum":1e12},"y":{"field":"acc","type":"quantitative","scale":{"domain":[-10.4,-1.34],"nice":false,"zero":false},"axis":null},"y2":{"datum":-100}}},
 {"transform":[{"filter":"datum.p=='42'&&indexof(['GA','EA','NC'],datum.s)>=0"}],"mark":{"type":"line","strokeWidth":2.5,"clip":true},"encoding":{"x":{"field":"x","type":"quantitative"},"y":{"field":"y","type":"quantitative"},"color":{"field":"s","type":"nominal"}}},
 {"transform":[{"filter":"datum.p=='42'&&indexof(['GD','ED','SU'],datum.s)>=0"}],"mark":{"type":"line","strokeWidth":2.5,"strokeDash":[7,3.5],"clip":true},"encoding":{"x":{"field":"x","type":"quantitative"},"y":{"field":"y","type":"quantitative"},"color":{"field":"s","type":"nominal"}}},
 {"transform":[{"filter":"datum.p=='42'&&indexof(['GA','ED'],datum.s)>=0"},{"joinaggregate":[{"op":"max","field":"x","as":"mx"}],"groupby":["s"]},{"filter":"datum.x==datum.mx"}],"mark":{"type":"point","shape":"M0,-1V1M-1,0H1","filled":false,"strokeWidth":2,"opacity":1,"size":169,"clip":true},"encoding":{"x":{"field":"x","type":"quantitative"},"y":{"field":"y","type":"quantitative"},"color":{"field":"s","type":"nominal"}}},
 {"transform":[{"filter":"datum.p=='42'&&indexof(['EA','GD'],datum.s)>=0"},{"joinaggregate":[{"op":"max","field":"x","as":"mx"}],"groupby":["s"]},{"filter":"datum.x==datum.mx"}],"mark":{"type":"point","shape":"M-1,-1L1,1M-1,1L1,-1","filled":false,"strokeWidth":2,"opacity":1,"size":169,"clip":true},"encoding":{"x":{"field":"x","type":"quantitative"},"y":{"field":"y","type":"quantitative"},"color":{"field":"s","type":"nominal"}}},
 {"transform":[{"filter":"datum.p=='42'&&indexof(['NC','SU'],datum.s)>=0"},{"joinaggregate":[{"op":"max","field":"x","as":"mx"}],"groupby":["s"]},{"filter":"datum.x==datum.mx"}],"mark":{"type":"point","shape":"M-1.15,-1.15H1.15V1.15H-1.15Z","filled":false,"strokeWidth":2,"opacity":1,"size":169,"clip":true},"encoding":{"x":{"field":"x","type":"quantitative"},"y":{"field":"y","type":"quantitative"},"color":{"field":"s","type":"nominal"}}}
]},
{"width":292.5,"height":128,"layer":[
 {"data":{"values":[{"acc":-2.8}]},"mark":{"type":"rect","color":"#fef0cf","clip":true},"encoding":{"x":{"datum":0,"type":"quantitative","scale":{"domain":[0,6410000],"nice":false,"zero":false},"axis":{"title":null,"values":[0,1500000,3000000,4500000,6000000,6410000],"labelExpr":"datum.value>6200000?'×10⁶':format(datum.value/1e6,'.1f')","labelAlign":{"condition":{"test":"datum.value>6200000","value":"left"},"value":"center"},"tickOpacity":{"condition":{"test":"datum.value>6200000","value":0},"value":1}}},"x2":{"datum":1e12},"y":{"field":"acc","type":"quantitative","scale":{"domain":[-10.4,-1.34],"nice":false,"zero":false},"axis":null},"y2":{"datum":-100}}},
 {"transform":[{"filter":"datum.p=='43'&&indexof(['GA','EA','NC'],datum.s)>=0"}],"mark":{"type":"line","strokeWidth":2.5,"clip":true},"encoding":{"x":{"field":"x","type":"quantitative"},"y":{"field":"y","type":"quantitative"},"color":{"field":"s","type":"nominal"}}},
 {"transform":[{"filter":"datum.p=='43'&&indexof(['GD','ED','SU'],datum.s)>=0"}],"mark":{"type":"line","strokeWidth":2.5,"strokeDash":[7,3.5],"clip":true},"encoding":{"x":{"field":"x","type":"quantitative"},"y":{"field":"y","type":"quantitative"},"color":{"field":"s","type":"nominal"}}},
 {"transform":[{"filter":"datum.p=='43'&&indexof(['GA','ED'],datum.s)>=0"},{"joinaggregate":[{"op":"max","field":"x","as":"mx"}],"groupby":["s"]},{"filter":"datum.x==datum.mx"}],"mark":{"type":"point","shape":"M0,-1V1M-1,0H1","filled":false,"strokeWidth":2,"opacity":1,"size":169,"clip":true},"encoding":{"x":{"field":"x","type":"quantitative"},"y":{"field":"y","type":"quantitative"},"color":{"field":"s","type":"nominal"}}},
 {"transform":[{"filter":"datum.p=='43'&&indexof(['EA','GD'],datum.s)>=0"},{"joinaggregate":[{"op":"max","field":"x","as":"mx"}],"groupby":["s"]},{"filter":"datum.x==datum.mx"}],"mark":{"type":"point","shape":"M-1,-1L1,1M-1,1L1,-1","filled":false,"strokeWidth":2,"opacity":1,"size":169,"clip":true},"encoding":{"x":{"field":"x","type":"quantitative"},"y":{"field":"y","type":"quantitative"},"color":{"field":"s","type":"nominal"}}},
 {"transform":[{"filter":"datum.p=='43'&&indexof(['NC','SU'],datum.s)>=0"},{"joinaggregate":[{"op":"max","field":"x","as":"mx"}],"groupby":["s"]},{"filter":"datum.x==datum.mx"}],"mark":{"type":"point","shape":"M-1.15,-1.15H1.15V1.15H-1.15Z","filled":false,"strokeWidth":2,"opacity":1,"size":169,"clip":true},"encoding":{"x":{"field":"x","type":"quantitative"},"y":{"field":"y","type":"quantitative"},"color":{"field":"s","type":"nominal"}}}
]},
{"width":292.5,"height":128,"layer":[
 {"data":{"values":[{"acc":-2.8}]},"mark":{"type":"rect","color":"#fef0cf","clip":true},"encoding":{"x":{"datum":0,"type":"quantitative","scale":{"domain":[0,52000],"nice":false,"zero":false},"axis":{"title":"Loss Expectation Values","titlePadding":18,"values":[0,15000,30000,45000,52000],"labelExpr":"datum.value>48000?'×10⁴':format(datum.value/1e4,'.1f')","tickOpacity":{"condition":{"test":"datum.value>48000","value":0},"value":1}}},"x2":{"datum":1e12},"y":{"field":"acc","type":"quantitative","scale":{"domain":[-14.2,0.5],"nice":false,"zero":false},"axis":{"values":[0,-3,-6,-9,-12],"tickCount":12,"labelExpr":"''+datum.value","title":"H₄ (N = 8)","titleFontSize":17,"titleX":-106,"titleBaseline":"middle"}},"y2":{"datum":-100}}},
 {"transform":[{"filter":"datum.p=='51'&&indexof(['GA','EA','NC'],datum.s)>=0"}],"mark":{"type":"line","strokeWidth":2.5,"clip":true},"encoding":{"x":{"field":"x","type":"quantitative"},"y":{"field":"y","type":"quantitative"},"color":{"field":"s","type":"nominal"}}},
 {"transform":[{"filter":"datum.p=='51'&&indexof(['GD','ED','SU'],datum.s)>=0"}],"mark":{"type":"line","strokeWidth":2.5,"strokeDash":[7,3.5],"clip":true},"encoding":{"x":{"field":"x","type":"quantitative"},"y":{"field":"y","type":"quantitative"},"color":{"field":"s","type":"nominal"}}},
 {"transform":[{"filter":"datum.p=='51'&&indexof(['GA','ED'],datum.s)>=0"},{"joinaggregate":[{"op":"max","field":"x","as":"mx"}],"groupby":["s"]},{"filter":"datum.x==datum.mx"}],"mark":{"type":"point","shape":"M0,-1V1M-1,0H1","filled":false,"strokeWidth":2,"opacity":1,"size":169,"clip":true},"encoding":{"x":{"field":"x","type":"quantitative"},"y":{"field":"y","type":"quantitative"},"color":{"field":"s","type":"nominal"}}},
 {"transform":[{"filter":"datum.p=='51'&&indexof(['EA','GD'],datum.s)>=0"},{"joinaggregate":[{"op":"max","field":"x","as":"mx"}],"groupby":["s"]},{"filter":"datum.x==datum.mx"}],"mark":{"type":"point","shape":"M-1,-1L1,1M-1,1L1,-1","filled":false,"strokeWidth":2,"opacity":1,"size":169,"clip":true},"encoding":{"x":{"field":"x","type":"quantitative"},"y":{"field":"y","type":"quantitative"},"color":{"field":"s","type":"nominal"}}},
 {"transform":[{"filter":"datum.p=='51'&&indexof(['NC','SU'],datum.s)>=0"},{"joinaggregate":[{"op":"max","field":"x","as":"mx"}],"groupby":["s"]},{"filter":"datum.x==datum.mx"}],"mark":{"type":"point","shape":"M-1.15,-1.15H1.15V1.15H-1.15Z","filled":false,"strokeWidth":2,"opacity":1,"size":169,"clip":true},"encoding":{"x":{"field":"x","type":"quantitative"},"y":{"field":"y","type":"quantitative"},"color":{"field":"s","type":"nominal"}}}
]},
{"width":292.5,"height":128,"layer":[
 {"data":{"values":[{"acc":-2.8}]},"mark":{"type":"rect","color":"#fef0cf","clip":true},"encoding":{"x":{"datum":0,"type":"quantitative","scale":{"domain":[0,22],"nice":false,"zero":false},"axis":{"title":"Optimization Calls","titlePadding":18,"values":[0,5,10,15,20]}},"x2":{"datum":1e12},"y":{"field":"acc","type":"quantitative","scale":{"domain":[-14.2,0.5],"nice":false,"zero":false},"axis":null},"y2":{"datum":-100}}},
 {"transform":[{"filter":"datum.p=='52'&&indexof(['GA','EA','NC'],datum.s)>=0"}],"mark":{"type":"line","strokeWidth":2.5,"clip":true},"encoding":{"x":{"field":"x","type":"quantitative"},"y":{"field":"y","type":"quantitative"},"color":{"field":"s","type":"nominal"}}},
 {"transform":[{"filter":"datum.p=='52'&&indexof(['GD','ED','SU'],datum.s)>=0"}],"mark":{"type":"line","strokeWidth":2.5,"strokeDash":[7,3.5],"clip":true},"encoding":{"x":{"field":"x","type":"quantitative"},"y":{"field":"y","type":"quantitative"},"color":{"field":"s","type":"nominal"}}},
 {"transform":[{"filter":"datum.p=='52'&&indexof(['GA','ED'],datum.s)>=0"},{"joinaggregate":[{"op":"max","field":"x","as":"mx"}],"groupby":["s"]},{"filter":"datum.x==datum.mx"}],"mark":{"type":"point","shape":"M0,-1V1M-1,0H1","filled":false,"strokeWidth":2,"opacity":1,"size":169,"clip":true},"encoding":{"x":{"field":"x","type":"quantitative"},"y":{"field":"y","type":"quantitative"},"color":{"field":"s","type":"nominal"}}},
 {"transform":[{"filter":"datum.p=='52'&&indexof(['EA','GD'],datum.s)>=0"},{"joinaggregate":[{"op":"max","field":"x","as":"mx"}],"groupby":["s"]},{"filter":"datum.x==datum.mx"}],"mark":{"type":"point","shape":"M-1,-1L1,1M-1,1L1,-1","filled":false,"strokeWidth":2,"opacity":1,"size":169,"clip":true},"encoding":{"x":{"field":"x","type":"quantitative"},"y":{"field":"y","type":"quantitative"},"color":{"field":"s","type":"nominal"}}},
 {"transform":[{"filter":"datum.p=='52'&&indexof(['NC','SU'],datum.s)>=0"},{"joinaggregate":[{"op":"max","field":"x","as":"mx"}],"groupby":["s"]},{"filter":"datum.x==datum.mx"}],"mark":{"type":"point","shape":"M-1.15,-1.15H1.15V1.15H-1.15Z","filled":false,"strokeWidth":2,"opacity":1,"size":169,"clip":true},"encoding":{"x":{"field":"x","type":"quantitative"},"y":{"field":"y","type":"quantitative"},"color":{"field":"s","type":"nominal"}}}
]},
{"width":292.5,"height":128,"layer":[
 {"data":{"values":[{"acc":-2.8}]},"mark":{"type":"rect","color":"#fef0cf","clip":true},"encoding":{"x":{"datum":0,"type":"quantitative","scale":{"domain":[0,40001],"nice":false,"zero":false},"axis":{"title":["Optimization","Expectation Values"],"titlePadding":18,"titleLineHeight":24,"values":[0,10000,20000,30000,40000,40001],"labelExpr":"datum.value>40000.5?'\u00a0\u00a0×10⁴':format(datum.value/1e4,'d')","labelAlign":{"condition":{"test":"datum.value>40000.5","value":"left"},"value":"center"},"tickOpacity":{"condition":{"test":"datum.value>40000.5","value":0},"value":1}}},"x2":{"datum":1e12},"y":{"field":"acc","type":"quantitative","scale":{"domain":[-14.2,0.5],"nice":false,"zero":false},"axis":null},"y2":{"datum":-100}}},
 {"transform":[{"filter":"datum.p=='53'&&indexof(['GA','EA','NC'],datum.s)>=0"}],"mark":{"type":"line","strokeWidth":2.5,"clip":true},"encoding":{"x":{"field":"x","type":"quantitative"},"y":{"field":"y","type":"quantitative"},"color":{"field":"s","type":"nominal"}}},
 {"transform":[{"filter":"datum.p=='53'&&indexof(['GD','ED','SU'],datum.s)>=0"}],"mark":{"type":"line","strokeWidth":2.5,"strokeDash":[7,3.5],"clip":true},"encoding":{"x":{"field":"x","type":"quantitative"},"y":{"field":"y","type":"quantitative"},"color":{"field":"s","type":"nominal"}}},
 {"transform":[{"filter":"datum.p=='53'&&indexof(['GA','ED'],datum.s)>=0"},{"joinaggregate":[{"op":"max","field":"x","as":"mx"}],"groupby":["s"]},{"filter":"datum.x==datum.mx"}],"mark":{"type":"point","shape":"M0,-1V1M-1,0H1","filled":false,"strokeWidth":2,"opacity":1,"size":169,"clip":true},"encoding":{"x":{"field":"x","type":"quantitative"},"y":{"field":"y","type":"quantitative"},"color":{"field":"s","type":"nominal"}}},
 {"transform":[{"filter":"datum.p=='53'&&indexof(['EA','GD'],datum.s)>=0"},{"joinaggregate":[{"op":"max","field":"x","as":"mx"}],"groupby":["s"]},{"filter":"datum.x==datum.mx"}],"mark":{"type":"point","shape":"M-1,-1L1,1M-1,1L1,-1","filled":false,"strokeWidth":2,"opacity":1,"size":169,"clip":true},"encoding":{"x":{"field":"x","type":"quantitative"},"y":{"field":"y","type":"quantitative"},"color":{"field":"s","type":"nominal"}}},
 {"transform":[{"filter":"datum.p=='53'&&indexof(['NC','SU'],datum.s)>=0"},{"joinaggregate":[{"op":"max","field":"x","as":"mx"}],"groupby":["s"]},{"filter":"datum.x==datum.mx"}],"mark":{"type":"point","shape":"M-1.15,-1.15H1.15V1.15H-1.15Z","filled":false,"strokeWidth":2,"opacity":1,"size":169,"clip":true},"encoding":{"x":{"field":"x","type":"quantitative"},"y":{"field":"y","type":"quantitative"},"color":{"field":"s","type":"nominal"}}}
]}
]
}
